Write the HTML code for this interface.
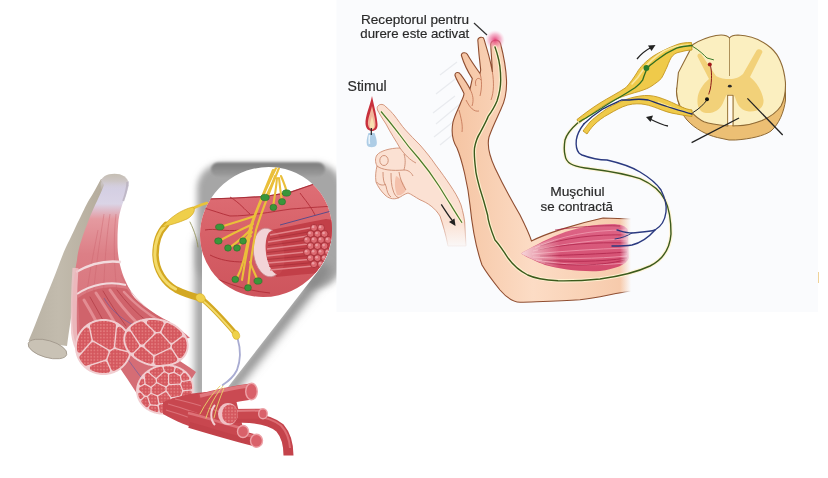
<!DOCTYPE html>
<html><head><meta charset="utf-8">
<style>
html,body{margin:0;padding:0;background:#fff;width:828px;height:478px;overflow:hidden}
svg{display:block}
text{font-family:"Liberation Sans",sans-serif;fill:#2a2a2a;stroke:#2a2a2a;stroke-width:0.18}
</style></head><body>
<svg width="828" height="478" viewBox="0 0 828 478">
<defs>
  <linearGradient id="tendonG" x1="0" y1="0" x2="1" y2="0">
    <stop offset="0" stop-color="#bab3a5"/>
    <stop offset="0.3" stop-color="#c2bbad"/>
    <stop offset="0.75" stop-color="#b5ac9c"/>
    <stop offset="1" stop-color="#9e9484"/>
  </linearGradient>
  <linearGradient id="muscTop" x1="0" y1="178" x2="0" y2="330" gradientUnits="userSpaceOnUse">
    <stop offset="0" stop-color="#d0cbe0"/>
    <stop offset="0.17" stop-color="#dad4e6"/>
    <stop offset="0.27" stop-color="#e59aa0"/>
    <stop offset="0.5" stop-color="#dc7f86"/>
    <stop offset="1" stop-color="#d7717a"/>
  </linearGradient>
  <pattern id="fasc" width="3.2" height="3.2" patternUnits="userSpaceOnUse">
    <rect width="3.2" height="3.2" fill="#d4575e"/>
    <circle cx="1.6" cy="1.6" r="0.95" fill="#e37a7c"/>
  </pattern>
  <linearGradient id="topBand" x1="0" y1="162" x2="0" y2="177" gradientUnits="userSpaceOnUse">
    <stop offset="0" stop-color="#7a7a7a"/>
    <stop offset="1" stop-color="#a0a0a0"/>
  </linearGradient>
  <linearGradient id="tissueG" x1="0" y1="185" x2="0" y2="300" gradientUnits="userSpaceOnUse">
    <stop offset="0" stop-color="#de6e75"/>
    <stop offset="0.5" stop-color="#d65f66"/>
    <stop offset="1" stop-color="#cd545c"/>
  </linearGradient>
  <linearGradient id="domeG" x1="0" y1="174" x2="0" y2="190" gradientUnits="userSpaceOnUse">
    <stop offset="0" stop-color="#c5beb3"/>
    <stop offset="0.45" stop-color="#cdc6c6"/>
    <stop offset="1" stop-color="#d8d3e2" stop-opacity="0"/>
  </linearGradient>
  <linearGradient id="skinG" x1="0" y1="0" x2="1" y2="0">
    <stop offset="0" stop-color="#f5c4a2"/>
    <stop offset="0.45" stop-color="#fcdcc5"/>
    <stop offset="1" stop-color="#f6c8a8"/>
  </linearGradient>
  <linearGradient id="armFade" x1="620" y1="0" x2="631" y2="0" gradientUnits="userSpaceOnUse">
    <stop offset="0" stop-color="#fafbfd" stop-opacity="0"/>
    <stop offset="1" stop-color="#fafbfd" stop-opacity="1"/>
  </linearGradient>
  <linearGradient id="lhFade" x1="0" y1="222" x2="0" y2="250" gradientUnits="userSpaceOnUse">
    <stop offset="0" stop-color="#fafbfd" stop-opacity="0"/>
    <stop offset="1" stop-color="#fafbfd" stop-opacity="1"/>
  </linearGradient>
  <linearGradient id="muscR" x1="0" y1="0" x2="0" y2="1">
    <stop offset="0" stop-color="#de6688"/>
    <stop offset="1" stop-color="#d24a6c"/>
  </linearGradient>
  <linearGradient id="muscRL" x1="519" y1="0" x2="560" y2="0" gradientUnits="userSpaceOnUse">
    <stop offset="0" stop-color="#f9dfe0" stop-opacity="1"/>
    <stop offset="1" stop-color="#f9dfe0" stop-opacity="0"/>
  </linearGradient>
  <radialGradient id="glow" cx="0.5" cy="0.5" r="0.5">
    <stop offset="0" stop-color="#e23a72" stop-opacity="0.95"/>
    <stop offset="0.6" stop-color="#f07aa2" stop-opacity="0.5"/>
    <stop offset="1" stop-color="#fbc0d4" stop-opacity="0"/>
  </radialGradient>
  <clipPath id="circClip"><ellipse cx="266" cy="232" rx="64" ry="67" transform="rotate(55 266 232)"/></clipPath>
  <filter id="blur6" x="-50%" y="-50%" width="200%" height="200%"><feGaussianBlur stdDeviation="5"/></filter>
  <filter id="blur4" x="-100%" y="-20%" width="300%" height="140%"><feGaussianBlur stdDeviation="4"/></filter>
  <filter id="blur3" x="-50%" y="-50%" width="200%" height="200%"><feGaussianBlur stdDeviation="3"/></filter>
  <filter id="blur1b" x="-20%" y="-50%" width="140%" height="200%"><feGaussianBlur stdDeviation="1.2"/></filter>
  <filter id="blur2s" x="-20%" y="-20%" width="140%" height="140%"><feGaussianBlur stdDeviation="2.6"/></filter>
  <filter id="blur1"><feGaussianBlur stdDeviation="0.45"/></filter>
</defs>

<rect x="815.5" y="272" width="3.5" height="11" fill="#ecc880" opacity="0.8"/>
<!-- ================= LEFT ILLUSTRATION ================= -->
<!-- callout shadow -->
<g filter="url(#blur3)">
  <rect x="197" y="163" width="145" height="125" rx="26" fill="#a6a6a6"/>
</g>
<rect x="211" y="162.4" width="114" height="14" rx="7" fill="url(#topBand)" filter="url(#blur1b)"/>
<g filter="url(#blur4)" fill="#999999">
  <path d="M195 240 L195 398 L206 398 L206 240 Z"/>
</g>
<g filter="url(#blur6)" fill="#878787">
  <path d="M322 262 L332 270 L230 398 L219 396 Z"/>
</g>
<path d="M200 234.8 A64 67 55 1 1 319 269.8 L221 396 L202 396 L202 240 Z" fill="#fff"/>

<!-- tendon -->
<path d="M101 179 C97 186 93 194 89 200 C85 207 83 212 79 220 C75 228 73 233 69.5 240 C63 252 58 268 53 280 C47 295 42 307 37 320 C34 328 31 335 28.5 341 L67 346 C69 330 71 318 73 305 L108 215 L128.6 185 Z" fill="url(#tendonG)"/>
<ellipse cx="47.5" cy="349" rx="20" ry="8.5" transform="rotate(16 47.5 349)" fill="#c9c2b5" stroke="#9f968a" stroke-width="0.8"/>


<!-- muscle main body -->
<path d="M102 181 L104 185 C102 190 100 195 97.5 200 C94 207 91 214 88.7 220 C86 227 83 235 81.5 240 C79 247 77.5 254 77 260 C75.5 268 74.5 274 73.8 280 C73 290 72.5 300 72.2 320 C72.5 335 75 344 79 350 L190 338 C180 328 165 320 150 313 C140 306 133 297 130 290 C126 283 121 272 119 260 C117.5 252 117.5 245 117.5 240 C117.5 232 118 226 118.5 220 C119.5 212 122 205 124 200 C126 195 127.5 190 128.6 186 L128.6 181 Z" fill="url(#muscTop)"/>
<g stroke="#c8606a" stroke-width="0.7" fill="none" opacity="0.55">
  <path d="M104 214 C100 240 95 270 92 310"/>
  <path d="M110 214 C106 240 104 270 103 310"/>
  <path d="M116 214 C113 240 114 270 118 300"/>
  <path d="M98 230 C92 260 86 290 84 320"/>
  <path d="M121 275 C128 290 140 305 160 318"/>
</g>
<path d="M100.3 183 C100.8 177 107 173.8 114.5 173.8 C122 173.8 128 177 128.8 184 L128 190 L101 190 Z" fill="url(#domeG)"/>
<path d="M127.3 182 C127.3 188 125.7 194 123.2 201" stroke="#b9b2bf" stroke-width="2" fill="none" opacity="0.8"/>
<path d="M101 181 C99 188 96 195 93 202" stroke="#b7afa3" stroke-width="1.5" fill="none" opacity="0.7"/>
<path d="M76 272 C90 264 105 260 121 262" stroke="#f2dadd" stroke-width="2.5" fill="none"/>
<path d="M77 294 C92 284 110 281 126 285" stroke="#f2dadd" stroke-width="2" fill="none"/>
<!-- exposed inner bundles -->
<path d="M75.5 268 C74 290 73.5 315 74 333 C75 341 77 347 80 351" stroke="#eec3c7" stroke-width="6" fill="none" opacity="0.85"/>
<path d="M78 298 C92 288 110 285 127 289 C135 300 150 312 170 322 L120 330 L80 335 Z" fill="#d0636b"/>
<g fill="none" stroke-linecap="round">
  <path d="M84 300 C90 310 96 320 100 330" stroke="#e38d93" stroke-width="3"/>
  <path d="M96 293 C104 305 112 318 118 328" stroke="#e38d93" stroke-width="3"/>
  <path d="M110 290 C118 302 128 314 138 324" stroke="#e38d93" stroke-width="3"/>
  <path d="M124 292 C134 303 146 313 160 321" stroke="#e38d93" stroke-width="2.5"/>
  <path d="M90 297 C96 308 102 318 108 329" stroke="#b9464f" stroke-width="1"/>
  <path d="M103 291 C110 303 118 315 126 326" stroke="#b9464f" stroke-width="1"/>
  <path d="M117 290 C126 302 136 313 148 322" stroke="#b9464f" stroke-width="1"/>
</g>
<path d="M104 298 C112 312 125 322 140 328" stroke="#5d5aa6" stroke-width="0.8" fill="none" opacity="0.7"/>

<!-- lower body strip between A and C -->
<path d="M108 350 C118 365 128 380 140 398 L175 405 L196 372 C180 360 160 350 140 332 Z" fill="#d56d75"/>
<path d="M125 355 C135 370 145 382 152 392" stroke="#5d5aa6" stroke-width="0.8" fill="none" opacity="0.7"/>

<!-- cross section A -->
<!--GEN:A-->
<path d="M132.0 347.0 L132.0 346.3 L132.0 345.6 L131.9 344.9 L131.9 344.3 L131.8 343.6 L131.7 342.9 L131.6 342.2 L131.5 341.5 L131.3 340.9 L131.1 340.2 L131.0 339.5 L130.8 338.9 L130.6 338.2 L130.3 337.6 L130.1 336.9 L129.8 336.3 L129.6 335.7 L129.3 335.0 L129.0 334.4 L128.6 333.8 L128.3 333.2 L127.9 332.6 L127.6 332.0 L127.2 331.4 L126.8 330.9 L126.4 330.3 L126.0 329.8 L125.5 329.2 L125.1 328.7 L124.6 328.2 L124.1 327.7 L123.7 327.2 L123.2 326.7 L122.6 326.3 L122.1 325.8 L121.6 325.4 L121.0 324.9 L120.5 324.5 L119.9 324.1 L119.3 323.7 L118.7 323.3 L118.2 323.0 L117.5 322.6 L116.9 322.3 L116.3 322.0 L115.7 321.7 L115.0 321.4 L114.4 321.1 L113.8 320.9 L113.1 320.6 L112.4 320.4 L111.8 320.2 L111.1 320.0 L110.4 319.8 L109.7 319.7 L109.1 319.5 L108.4 319.4 L107.7 319.3 L107.0 319.2 L106.3 319.1 L105.6 319.1 L104.9 319.0 L104.2 319.0 L103.5 319.0 L102.8 319.0 L102.1 319.0 L101.4 319.1 L100.7 319.1 L100.0 319.2 L99.3 319.3 L98.6 319.4 L97.9 319.5 L97.3 319.7 L96.6 319.8 L95.9 320.0 L95.2 320.2 L94.6 320.4 L93.9 320.6 L93.2 320.9 L92.6 321.1 L92.0 321.4 L91.3 321.7 L90.7 322.0 L90.1 322.3 L89.5 322.6 L88.8 323.0 L88.3 323.3 L87.7 323.7 L87.1 324.1 L86.5 324.5 L86.0 324.9 L85.4 325.4 L84.9 325.8 L84.4 326.3 L83.8 326.7 L83.3 327.2 L82.9 327.7 L82.4 328.2 L81.9 328.7 L81.5 329.2 L81.0 329.8 L80.6 330.3 L80.2 330.9 L79.8 331.4 L79.4 332.0 L79.1 332.6 L78.7 333.2 L78.4 333.8 L78.0 334.4 L77.7 335.0 L77.4 335.7 L77.2 336.3 L76.9 336.9 L76.7 337.6 L76.4 338.2 L76.2 338.9 L76.0 339.5 L75.9 340.2 L75.7 340.9 L75.5 341.5 L75.4 342.2 L75.3 342.9 L75.2 343.6 L75.1 344.3 L75.1 344.9 L75.0 345.6 L75.0 346.3 L75.0 347.0 L75.0 347.7 L75.0 348.4 L75.1 349.1 L75.1 349.7 L75.2 350.4 L75.3 351.1 L75.4 351.8 L75.5 352.5 L75.7 353.1 L75.9 353.8 L76.0 354.5 L76.2 355.1 L76.4 355.8 L76.7 356.4 L76.9 357.1 L77.2 357.7 L77.4 358.3 L77.7 359.0 L78.0 359.6 L78.4 360.2 L78.7 360.8 L79.1 361.4 L79.4 362.0 L79.8 362.6 L80.2 363.1 L80.6 363.7 L81.0 364.2 L81.5 364.8 L81.9 365.3 L82.4 365.8 L82.9 366.3 L83.3 366.8 L83.8 367.3 L84.4 367.7 L84.9 368.2 L85.4 368.6 L86.0 369.1 L86.5 369.5 L87.1 369.9 L87.7 370.3 L88.3 370.7 L88.8 371.0 L89.5 371.4 L90.1 371.7 L90.7 372.0 L91.3 372.3 L92.0 372.6 L92.6 372.9 L93.2 373.1 L93.9 373.4 L94.6 373.6 L95.2 373.8 L95.9 374.0 L96.6 374.2 L97.3 374.3 L97.9 374.5 L98.6 374.6 L99.3 374.7 L100.0 374.8 L100.7 374.9 L101.4 374.9 L102.1 375.0 L102.8 375.0 L103.5 375.0 L104.2 375.0 L104.9 375.0 L105.6 374.9 L106.3 374.9 L107.0 374.8 L107.7 374.7 L108.4 374.6 L109.1 374.5 L109.7 374.3 L110.4 374.2 L111.1 374.0 L111.8 373.8 L112.4 373.6 L113.1 373.4 L113.8 373.1 L114.4 372.9 L115.0 372.6 L115.7 372.3 L116.3 372.0 L116.9 371.7 L117.5 371.4 L118.2 371.0 L118.7 370.7 L119.3 370.3 L119.9 369.9 L120.5 369.5 L121.0 369.1 L121.6 368.6 L122.1 368.2 L122.6 367.7 L123.2 367.3 L123.7 366.8 L124.1 366.3 L124.6 365.8 L125.1 365.3 L125.5 364.8 L126.0 364.2 L126.4 363.7 L126.8 363.1 L127.2 362.6 L127.6 362.0 L127.9 361.4 L128.3 360.8 L128.6 360.2 L129.0 359.6 L129.3 359.0 L129.6 358.3 L129.8 357.7 L130.1 357.1 L130.3 356.4 L130.6 355.8 L130.8 355.1 L131.0 354.5 L131.1 353.8 L131.3 353.1 L131.5 352.5 L131.6 351.8 L131.7 351.1 L131.8 350.4 L131.9 349.7 L131.9 349.1 L132.0 348.4 L132.0 347.7 L132.0 347.0Z" fill="#f1cdd0"/>
<path d="M107.6 358.9 L107.5 359.2 L107.5 359.4 L107.5 359.6 L107.5 359.9 L107.5 360.1 L107.5 360.4 L107.6 360.6 L107.7 360.8 L111.4 369.4 L111.6 369.6 L111.7 369.8 L111.8 370.0 L112.0 370.2 L112.2 370.3 L112.4 370.5 L112.6 370.6 L112.8 370.7 L113.1 370.8 L113.3 370.8 L113.6 370.9 L113.8 370.9 L114.0 370.8 L114.3 370.8 L114.5 370.7 L114.8 370.6 L114.9 370.6 L114.9 370.6 L115.4 370.3 L115.5 370.3 L116.0 370.0 L116.1 370.0 L116.6 369.7 L116.6 369.7 L117.2 369.4 L117.2 369.4 L117.7 369.1 L117.8 369.0 L118.3 368.7 L118.3 368.7 L118.8 368.3 L118.9 368.3 L119.3 368.0 L119.4 367.9 L119.9 367.6 L119.9 367.5 L120.4 367.2 L120.4 367.1 L120.9 366.8 L120.9 366.7 L121.4 366.3 L121.4 366.3 L121.8 365.9 L121.9 365.9 L122.3 365.5 L122.3 365.4 L122.8 365.0 L122.8 365.0 L123.2 364.5 L123.2 364.5 L123.6 364.1 L123.7 364.0 L124.1 363.6 L124.1 363.5 L124.5 363.1 L124.5 363.0 L124.9 362.6 L124.9 362.5 L125.2 362.0 L125.3 362.0 L125.6 361.5 L125.6 361.5 L126.0 361.0 L126.0 360.9 L126.3 360.4 L126.3 360.4 L126.6 359.9 L126.7 359.8 L127.0 359.3 L127.0 359.3 L127.3 358.8 L127.3 358.7 L127.5 358.2 L127.6 358.1 L127.8 357.6 L127.8 357.5 L128.1 357.0 L128.1 356.9 L128.3 356.4 L128.3 356.4 L128.5 355.8 L128.6 355.8 L128.7 355.5 L128.7 355.2 L128.8 355.0 L128.8 354.8 L128.8 354.5 L128.8 354.3 L128.7 354.0 L128.6 353.8 L128.6 353.6 L128.4 353.4 L128.3 353.2 L128.1 353.0 L128.0 352.8 L127.8 352.6 L127.6 352.5 L127.4 352.4 L127.1 352.3 L126.9 352.2 L115.4 349.3 L115.2 349.3 L114.9 349.3 L114.7 349.3 L114.4 349.3 L114.2 349.3 L114.0 349.4 L113.8 349.5 L113.5 349.6 L111.2 350.9 L111.0 351.0 L110.8 351.2 L110.6 351.4 L110.5 351.5 L110.3 351.8 L110.2 352.0 L110.1 352.2 L107.6 358.9Z M91.4 323.8 L91.1 323.9 L90.9 324.0 L90.8 324.2 L90.6 324.4 L90.4 324.6 L90.3 324.8 L90.2 325.0 L90.1 325.3 L90.0 325.5 L90.0 325.8 L90.0 326.0 L90.0 326.3 L90.0 326.5 L92.7 339.2 L92.7 339.4 L92.8 339.6 L92.9 339.8 L93.0 340.0 L93.2 340.2 L93.3 340.4 L93.5 340.5 L93.7 340.7 L93.9 340.8 L108.6 349.3 L108.8 349.4 L109.1 349.5 L109.3 349.6 L109.5 349.6 L109.7 349.7 L110.0 349.7 L110.2 349.7 L110.5 349.6 L110.7 349.5 L110.9 349.5 L111.1 349.3 L112.5 348.5 L112.7 348.4 L112.9 348.3 L113.1 348.1 L113.2 347.9 L113.4 347.7 L113.5 347.5 L113.6 347.3 L113.7 347.1 L113.7 346.9 L113.8 346.6 L115.9 325.7 L115.9 325.5 L115.9 325.2 L115.8 325.0 L115.8 324.8 L115.7 324.5 L115.6 324.3 L115.5 324.1 L115.3 323.9 L115.2 323.7 L115.0 323.6 L114.8 323.4 L114.6 323.3 L114.4 323.2 L114.3 323.2 L114.3 323.1 L113.7 322.9 L113.7 322.9 L113.1 322.7 L113.1 322.6 L112.5 322.4 L112.4 322.4 L111.9 322.2 L111.8 322.2 L111.3 322.0 L111.2 322.0 L110.6 321.9 L110.6 321.8 L110.0 321.7 L109.9 321.7 L109.4 321.5 L109.3 321.5 L108.7 321.4 L108.7 321.4 L108.1 321.3 L108.0 321.3 L107.4 321.2 L107.4 321.2 L106.8 321.1 L106.7 321.1 L106.1 321.0 L106.1 321.0 L105.5 321.0 L105.4 321.0 L104.8 320.9 L104.8 320.9 L104.2 320.9 L104.1 320.9 L103.5 320.9 L103.5 320.9 L102.9 320.9 L102.8 320.9 L102.2 320.9 L102.2 320.9 L101.6 321.0 L101.5 321.0 L100.9 321.0 L100.9 321.0 L100.3 321.1 L100.2 321.1 L99.6 321.2 L99.6 321.2 L99.0 321.3 L98.9 321.3 L98.3 321.4 L98.3 321.4 L97.7 321.5 L97.6 321.5 L97.1 321.7 L97.0 321.7 L96.4 321.8 L96.4 321.9 L95.8 322.0 L95.7 322.0 L95.2 322.2 L95.1 322.2 L94.6 322.4 L94.5 322.4 L93.9 322.6 L93.9 322.7 L93.3 322.9 L93.3 322.9 L92.7 323.1 L92.7 323.2 L92.1 323.4 L92.1 323.4 L91.6 323.7 L91.5 323.7 L91.4 323.8Z M77.1 350.5 L77.2 350.7 L77.3 351.0 L77.4 351.2 L77.5 351.4 L77.6 351.6 L77.8 351.8 L77.9 352.0 L78.1 352.2 L78.3 352.3 L78.5 352.4 L78.8 352.5 L79.0 352.6 L79.3 352.6 L79.5 352.7 L79.8 352.7 L80.0 352.6 L80.2 352.6 L80.5 352.5 L80.7 352.4 L80.9 352.3 L81.1 352.2 L81.3 352.0 L81.5 351.8 L90.7 341.4 L90.8 341.2 L91.0 341.0 L91.1 340.8 L91.2 340.5 L91.3 340.3 L91.3 340.0 L91.3 339.8 L91.3 339.5 L91.3 339.3 L89.2 329.5 L89.2 329.3 L89.1 329.0 L89.0 328.8 L88.9 328.6 L88.7 328.4 L88.6 328.2 L88.4 328.1 L88.2 327.9 L88.0 327.8 L87.8 327.7 L87.5 327.6 L87.3 327.6 L87.1 327.5 L86.8 327.5 L86.6 327.5 L86.3 327.5 L86.1 327.6 L85.9 327.7 L85.6 327.8 L85.4 327.9 L85.2 328.0 L85.1 328.2 L84.7 328.5 L84.7 328.6 L84.2 329.0 L84.2 329.0 L83.8 329.5 L83.8 329.5 L83.4 329.9 L83.3 330.0 L82.9 330.4 L82.9 330.5 L82.5 330.9 L82.5 331.0 L82.1 331.4 L82.1 331.5 L81.8 332.0 L81.7 332.0 L81.4 332.5 L81.4 332.5 L81.0 333.0 L81.0 333.1 L80.7 333.6 L80.7 333.6 L80.4 334.1 L80.3 334.2 L80.0 334.7 L80.0 334.7 L79.7 335.2 L79.7 335.3 L79.5 335.8 L79.4 335.9 L79.2 336.4 L79.2 336.5 L78.9 337.0 L78.9 337.1 L78.7 337.6 L78.7 337.6 L78.5 338.2 L78.4 338.2 L78.2 338.8 L78.2 338.9 L78.1 339.4 L78.0 339.5 L77.9 340.0 L77.9 340.1 L77.7 340.6 L77.7 340.7 L77.6 341.3 L77.5 341.3 L77.4 341.9 L77.4 341.9 L77.3 342.5 L77.3 342.6 L77.2 343.1 L77.2 343.2 L77.1 343.8 L77.1 343.8 L77.0 344.4 L77.0 344.5 L77.0 345.1 L77.0 345.1 L76.9 345.7 L76.9 345.8 L76.9 346.3 L76.9 346.4 L76.9 347.0 L76.9 347.0 L76.9 347.6 L76.9 347.7 L76.9 348.2 L76.9 348.3 L77.0 348.9 L77.0 348.9 L77.0 349.5 L77.0 349.6 L77.1 350.2 L77.1 350.2 L77.1 350.5Z M91.6 365.6 L91.4 365.6 L91.1 365.8 L90.9 365.9 L90.7 366.0 L90.6 366.2 L90.4 366.4 L90.3 366.6 L90.1 366.8 L90.0 367.0 L90.0 367.3 L89.9 367.5 L89.9 367.7 L89.9 368.0 L89.9 368.2 L89.9 368.5 L90.0 368.7 L90.1 368.9 L90.2 369.2 L90.3 369.4 L90.5 369.6 L90.6 369.7 L90.8 369.9 L91.0 370.0 L91.2 370.2 L91.5 370.3 L91.6 370.3 L92.1 370.6 L92.1 370.6 L92.7 370.8 L92.7 370.9 L93.3 371.1 L93.3 371.1 L93.9 371.3 L93.9 371.4 L94.5 371.6 L94.6 371.6 L95.1 371.8 L95.2 371.8 L95.7 372.0 L95.8 372.0 L96.4 372.1 L96.4 372.2 L97.0 372.3 L97.1 372.3 L97.6 372.5 L97.7 372.5 L98.3 372.6 L98.3 372.6 L98.9 372.7 L99.0 372.7 L99.6 372.8 L99.6 372.8 L100.2 372.9 L100.3 372.9 L100.9 373.0 L100.9 373.0 L101.5 373.0 L101.6 373.0 L102.2 373.1 L102.2 373.1 L102.8 373.1 L102.9 373.1 L103.5 373.1 L103.5 373.1 L104.1 373.1 L104.2 373.1 L104.8 373.1 L104.8 373.1 L105.4 373.0 L105.5 373.0 L106.1 373.0 L106.1 373.0 L106.7 372.9 L106.8 372.9 L107.4 372.8 L107.4 372.8 L108.0 372.7 L108.2 372.7 L108.4 372.6 L108.6 372.5 L108.9 372.4 L109.1 372.3 L109.2 372.1 L109.4 371.9 L109.6 371.8 L109.7 371.6 L109.8 371.4 L109.9 371.1 L110.0 370.9 L110.0 370.7 L110.1 370.4 L110.1 370.2 L110.0 369.9 L110.0 369.7 L109.9 369.5 L109.9 369.3 L107.0 362.9 L106.9 362.6 L106.8 362.4 L106.6 362.2 L106.5 362.1 L106.3 361.9 L106.1 361.8 L105.9 361.6 L105.6 361.5 L105.4 361.5 L105.2 361.4 L104.9 361.4 L104.7 361.4 L104.4 361.4 L104.2 361.4 L104.0 361.5 L91.6 365.6Z M115.3 345.7 L115.3 345.9 L115.3 346.1 L115.3 346.4 L115.4 346.6 L115.4 346.8 L115.5 347.0 L115.7 347.3 L115.8 347.4 L116.0 347.6 L116.1 347.8 L116.3 347.9 L116.5 348.1 L116.7 348.2 L116.9 348.3 L117.2 348.3 L126.9 350.8 L127.2 350.8 L127.4 350.9 L127.7 350.9 L127.9 350.8 L128.2 350.8 L128.4 350.7 L128.6 350.6 L128.8 350.5 L129.0 350.4 L129.2 350.2 L129.4 350.1 L129.6 349.9 L129.7 349.7 L129.8 349.5 L129.9 349.2 L130.0 349.0 L130.0 348.8 L130.1 348.5 L130.1 348.3 L130.1 348.2 L130.1 347.7 L130.1 347.6 L130.1 347.0 L130.1 347.0 L130.1 346.4 L130.1 346.3 L130.1 345.8 L130.1 345.7 L130.0 345.1 L130.0 345.1 L130.0 344.5 L130.0 344.4 L129.9 343.8 L129.9 343.8 L129.8 343.2 L129.8 343.1 L129.7 342.6 L129.7 342.5 L129.6 341.9 L129.6 341.9 L129.5 341.3 L129.4 341.3 L129.3 340.7 L129.3 340.6 L129.1 340.1 L129.1 340.0 L129.0 339.5 L128.9 339.4 L128.8 338.9 L128.8 338.8 L128.6 338.2 L128.5 338.2 L128.3 337.6 L128.3 337.6 L128.1 337.1 L128.1 337.0 L127.8 336.5 L127.8 336.4 L127.6 335.9 L127.5 335.8 L127.3 335.3 L127.3 335.2 L127.0 334.7 L127.0 334.7 L126.7 334.2 L126.6 334.1 L126.3 333.6 L126.3 333.6 L126.0 333.1 L126.0 333.0 L125.6 332.5 L125.6 332.5 L125.3 332.0 L125.2 332.0 L124.9 331.5 L124.9 331.4 L124.5 331.0 L124.5 330.9 L124.1 330.5 L124.1 330.4 L123.7 330.0 L123.6 329.9 L123.2 329.5 L123.2 329.5 L122.8 329.0 L122.8 329.0 L122.3 328.6 L122.3 328.5 L121.9 328.1 L121.8 328.1 L121.4 327.7 L121.4 327.7 L121.1 327.4 L120.9 327.3 L120.7 327.1 L120.4 327.0 L120.2 326.9 L120.0 326.9 L119.7 326.8 L119.5 326.8 L119.2 326.8 L119.0 326.8 L118.7 326.9 L118.5 327.0 L118.3 327.1 L118.1 327.2 L117.9 327.3 L117.7 327.5 L117.5 327.7 L117.4 327.9 L117.2 328.1 L117.1 328.3 L117.0 328.6 L117.0 328.8 L116.9 329.0 L115.3 345.7Z M80.0 355.7 L79.8 355.9 L79.7 356.1 L79.6 356.3 L79.5 356.5 L79.4 356.7 L79.4 357.0 L79.3 357.2 L79.3 357.5 L79.4 357.7 L79.4 358.0 L79.5 358.2 L79.6 358.4 L79.7 358.7 L79.7 358.8 L80.0 359.3 L80.0 359.3 L80.3 359.8 L80.4 359.9 L80.7 360.4 L80.7 360.4 L81.0 360.9 L81.0 361.0 L81.4 361.5 L81.4 361.5 L81.7 362.0 L81.8 362.0 L82.1 362.5 L82.1 362.6 L82.5 363.0 L82.5 363.1 L82.9 363.5 L82.9 363.6 L83.3 364.0 L83.4 364.1 L83.8 364.5 L83.8 364.5 L84.2 365.0 L84.2 365.0 L84.3 365.0 L84.5 365.2 L84.7 365.3 L84.9 365.5 L85.1 365.6 L85.3 365.7 L85.6 365.7 L85.8 365.8 L86.1 365.8 L86.3 365.8 L86.6 365.7 L86.8 365.6 L104.8 359.7 L105.1 359.6 L105.3 359.5 L105.5 359.4 L105.7 359.2 L105.9 359.1 L106.0 358.9 L106.2 358.7 L106.3 358.5 L106.4 358.2 L108.3 353.1 L108.3 352.9 L108.4 352.7 L108.4 352.4 L108.4 352.2 L108.4 351.9 L108.3 351.7 L108.3 351.4 L108.2 351.2 L108.1 351.0 L107.9 350.8 L107.8 350.6 L107.6 350.4 L107.4 350.2 L107.2 350.1 L94.2 342.6 L94.0 342.5 L93.7 342.4 L93.5 342.3 L93.3 342.3 L93.0 342.3 L92.8 342.3 L92.5 342.3 L92.3 342.4 L92.1 342.4 L91.8 342.5 L91.6 342.7 L91.4 342.8 L91.2 342.9 L91.1 343.1 L80.0 355.7Z" fill="url(#fasc)"/>
<!--/GEN:A-->
<!-- cross section B -->
<!--GEN:B-->
<path d="M188.3 349.4 L188.4 348.8 L188.5 348.2 L188.6 347.6 L188.6 347.0 L188.6 346.4 L188.7 345.8 L188.7 345.2 L188.6 344.6 L188.6 344.1 L188.5 343.5 L188.4 342.9 L188.3 342.3 L188.2 341.7 L188.1 341.1 L187.9 340.5 L187.7 339.9 L187.5 339.3 L187.3 338.7 L187.1 338.1 L186.8 337.5 L186.5 336.9 L186.3 336.3 L185.9 335.7 L185.6 335.2 L185.3 334.6 L184.9 334.0 L184.5 333.5 L184.1 332.9 L183.7 332.4 L183.3 331.8 L182.8 331.3 L182.4 330.8 L181.9 330.2 L181.4 329.7 L180.9 329.2 L180.3 328.7 L179.8 328.2 L179.2 327.7 L178.7 327.3 L178.1 326.8 L177.5 326.3 L176.9 325.9 L176.3 325.5 L175.6 325.0 L175.0 324.6 L174.3 324.2 L173.6 323.8 L173.0 323.4 L172.3 323.1 L171.6 322.7 L170.9 322.4 L170.1 322.0 L169.4 321.7 L168.7 321.4 L167.9 321.1 L167.2 320.8 L166.4 320.5 L165.7 320.3 L164.9 320.0 L164.1 319.8 L163.4 319.6 L162.6 319.4 L161.8 319.2 L161.0 319.0 L160.2 318.9 L159.4 318.7 L158.6 318.6 L157.8 318.5 L157.0 318.4 L156.2 318.3 L155.4 318.2 L154.6 318.1 L153.8 318.1 L153.0 318.1 L152.2 318.0 L151.4 318.0 L150.6 318.1 L149.8 318.1 L149.0 318.1 L148.3 318.2 L147.5 318.3 L146.7 318.3 L145.9 318.4 L145.2 318.6 L144.4 318.7 L143.7 318.8 L142.9 319.0 L142.2 319.2 L141.5 319.4 L140.8 319.6 L140.1 319.8 L139.4 320.0 L138.7 320.2 L138.0 320.5 L137.4 320.8 L136.7 321.0 L136.1 321.3 L135.4 321.7 L134.8 322.0 L134.2 322.3 L133.6 322.6 L133.0 323.0 L132.5 323.4 L131.9 323.8 L131.4 324.1 L130.9 324.5 L130.4 325.0 L129.9 325.4 L129.4 325.8 L129.0 326.3 L128.5 326.7 L128.1 327.2 L127.7 327.6 L127.3 328.1 L126.9 328.6 L126.6 329.1 L126.2 329.6 L125.9 330.1 L125.6 330.7 L125.3 331.2 L125.0 331.7 L124.8 332.3 L124.6 332.8 L124.4 333.4 L124.2 333.9 L124.0 334.5 L123.9 335.1 L123.7 335.6 L123.6 336.2 L123.5 336.8 L123.4 337.4 L123.4 338.0 L123.4 338.6 L123.3 339.2 L123.3 339.8 L123.4 340.4 L123.4 340.9 L123.5 341.5 L123.6 342.1 L123.7 342.7 L123.8 343.3 L123.9 343.9 L124.1 344.5 L124.3 345.1 L124.5 345.7 L124.7 346.3 L124.9 346.9 L125.2 347.5 L125.5 348.1 L125.7 348.7 L126.1 349.3 L126.4 349.8 L126.7 350.4 L127.1 351.0 L127.5 351.5 L127.9 352.1 L128.3 352.6 L128.7 353.2 L129.2 353.7 L129.6 354.2 L130.1 354.8 L130.6 355.3 L131.1 355.8 L131.7 356.3 L132.2 356.8 L132.8 357.3 L133.3 357.7 L133.9 358.2 L134.5 358.7 L135.1 359.1 L135.7 359.5 L136.4 360.0 L137.0 360.4 L137.7 360.8 L138.4 361.2 L139.0 361.6 L139.7 361.9 L140.4 362.3 L141.1 362.6 L141.9 363.0 L142.6 363.3 L143.3 363.6 L144.1 363.9 L144.8 364.2 L145.6 364.5 L146.3 364.7 L147.1 365.0 L147.9 365.2 L148.6 365.4 L149.4 365.6 L150.2 365.8 L151.0 366.0 L151.8 366.1 L152.6 366.3 L153.4 366.4 L154.2 366.5 L155.0 366.6 L155.8 366.7 L156.6 366.8 L157.4 366.9 L158.2 366.9 L159.0 366.9 L159.8 367.0 L160.6 367.0 L161.4 366.9 L162.2 366.9 L163.0 366.9 L163.7 366.8 L164.5 366.7 L165.3 366.7 L166.1 366.6 L166.8 366.4 L167.6 366.3 L168.3 366.2 L169.1 366.0 L169.8 365.8 L170.5 365.6 L171.2 365.4 L171.9 365.2 L172.6 365.0 L173.3 364.8 L174.0 364.5 L174.6 364.2 L175.3 364.0 L175.9 363.7 L176.6 363.3 L177.2 363.0 L177.8 362.7 L178.4 362.4 L179.0 362.0 L179.5 361.6 L180.1 361.2 L180.6 360.9 L181.1 360.5 L181.6 360.0 L182.1 359.6 L182.6 359.2 L183.0 358.7 L183.5 358.3 L183.9 357.8 L184.3 357.4 L184.7 356.9 L185.1 356.4 L185.4 355.9 L185.8 355.4 L186.1 354.9 L186.4 354.3 L186.7 353.8 L187.0 353.3 L187.2 352.7 L187.4 352.2 L187.6 351.6 L187.8 351.1 L188.0 350.5 L188.1 349.9 L188.3 349.4Z" fill="#f1cdd0"/>
<path d="M154.3 362.3 L154.2 362.5 L154.3 362.7 L154.3 363.0 L154.4 363.2 L154.5 363.4 L154.6 363.6 L154.7 363.8 L154.9 364.0 L155.0 364.2 L155.2 364.4 L155.4 364.5 L155.6 364.6 L155.8 364.7 L156.0 364.8 L156.3 364.9 L156.5 364.9 L156.7 364.9 L156.8 364.9 L157.5 365.0 L157.6 365.0 L158.3 365.0 L158.3 365.0 L159.0 365.0 L159.1 365.0 L159.8 365.1 L159.8 365.1 L160.6 365.1 L160.6 365.1 L161.3 365.0 L161.4 365.0 L162.1 365.0 L162.1 365.0 L162.8 365.0 L162.9 365.0 L163.6 364.9 L163.6 364.9 L164.3 364.9 L164.3 364.8 L165.0 364.8 L165.1 364.8 L165.8 364.7 L165.8 364.7 L166.5 364.6 L166.5 364.6 L167.2 364.4 L167.3 364.4 L167.9 364.3 L168.0 364.3 L168.6 364.2 L168.7 364.1 L169.3 364.0 L169.4 364.0 L170.0 363.8 L170.0 363.8 L170.7 363.6 L170.7 363.6 L171.3 363.4 L171.4 363.4 L172.0 363.2 L172.0 363.2 L172.6 363.0 L172.7 363.0 L173.3 362.7 L173.3 362.7 L173.9 362.5 L173.9 362.5 L174.5 362.2 L174.5 362.2 L175.1 362.0 L175.1 361.9 L175.7 361.7 L175.7 361.6 L175.9 361.6 L176.1 361.4 L176.3 361.3 L176.5 361.1 L176.6 361.0 L176.8 360.8 L176.9 360.6 L177.0 360.3 L177.1 360.1 L177.2 359.9 L177.2 359.6 L177.2 359.4 L177.2 359.1 L177.2 358.9 L177.1 358.7 L177.1 358.4 L177.0 358.2 L176.8 358.0 L172.0 350.5 L171.9 350.3 L171.7 350.1 L171.6 350.0 L171.4 349.8 L171.2 349.7 L171.0 349.6 L170.7 349.5 L170.5 349.4 L170.3 349.4 L170.0 349.4 L169.8 349.4 L169.5 349.4 L169.3 349.4 L169.1 349.5 L168.9 349.6 L155.9 355.7 L155.7 355.8 L155.5 356.0 L155.3 356.1 L155.1 356.3 L155.0 356.5 L154.8 356.7 L154.7 356.9 L154.6 357.1 L154.6 357.4 L154.5 357.6 L154.5 357.9 L154.3 362.3Z M162.0 330.8 L161.9 331.1 L161.8 331.3 L161.8 331.5 L161.7 331.8 L161.7 332.0 L161.8 332.3 L161.8 332.5 L161.9 332.7 L162.0 333.0 L162.1 333.2 L162.2 333.4 L162.4 333.6 L169.8 341.9 L170.0 342.1 L170.2 342.2 L170.4 342.4 L170.6 342.5 L170.9 342.6 L171.1 342.7 L171.3 342.7 L171.6 342.7 L171.8 342.7 L172.1 342.7 L172.3 342.7 L172.6 342.6 L172.8 342.5 L173.0 342.4 L173.2 342.2 L181.1 336.3 L181.3 336.1 L181.5 336.0 L181.6 335.8 L181.7 335.6 L181.9 335.4 L181.9 335.2 L182.0 334.9 L182.1 334.7 L182.1 334.5 L182.1 334.2 L182.1 334.0 L182.0 333.8 L182.0 333.5 L181.9 333.3 L181.8 333.1 L181.7 332.9 L181.5 332.7 L181.4 332.5 L181.4 332.5 L181.0 332.0 L180.9 332.0 L180.5 331.6 L180.5 331.5 L180.0 331.1 L180.0 331.0 L179.6 330.6 L179.5 330.6 L179.1 330.1 L179.0 330.1 L178.6 329.7 L178.5 329.6 L178.0 329.2 L178.0 329.2 L177.5 328.7 L177.4 328.7 L176.9 328.3 L176.9 328.3 L176.4 327.9 L176.3 327.8 L175.8 327.5 L175.7 327.4 L175.2 327.0 L175.2 327.0 L174.6 326.6 L174.6 326.6 L174.0 326.2 L173.9 326.2 L173.4 325.9 L173.3 325.8 L172.7 325.5 L172.7 325.5 L172.1 325.1 L172.0 325.1 L171.4 324.8 L171.4 324.7 L170.7 324.4 L170.7 324.4 L170.1 324.1 L170.0 324.1 L169.4 323.8 L169.3 323.7 L168.7 323.5 L168.6 323.4 L168.2 323.3 L168.0 323.2 L167.7 323.1 L167.5 323.1 L167.3 323.1 L167.0 323.1 L166.8 323.1 L166.6 323.1 L166.3 323.2 L166.1 323.3 L165.9 323.4 L165.7 323.6 L165.5 323.7 L165.4 323.9 L165.2 324.1 L165.1 324.3 L165.0 324.5 L162.0 330.8Z M134.7 352.9 L134.6 353.1 L134.4 353.3 L134.3 353.5 L134.2 353.7 L134.1 353.9 L134.1 354.2 L134.0 354.4 L134.0 354.7 L134.0 354.9 L134.1 355.2 L134.1 355.4 L134.2 355.6 L134.3 355.9 L134.5 356.1 L134.6 356.3 L134.8 356.4 L135.0 356.6 L135.1 356.7 L135.1 356.7 L135.6 357.1 L135.7 357.2 L136.2 357.5 L136.3 357.6 L136.8 358.0 L136.8 358.0 L137.4 358.4 L137.4 358.4 L138.0 358.8 L138.1 358.8 L138.6 359.1 L138.7 359.2 L139.3 359.5 L139.3 359.5 L139.9 359.9 L140.0 359.9 L140.6 360.2 L140.6 360.3 L141.3 360.6 L141.3 360.6 L141.9 360.9 L142.0 360.9 L142.6 361.2 L142.7 361.3 L143.3 361.5 L143.4 361.6 L144.0 361.8 L144.1 361.9 L144.7 362.1 L144.8 362.1 L145.4 362.4 L145.5 362.4 L146.2 362.7 L146.2 362.7 L146.9 362.9 L146.9 362.9 L147.6 363.1 L147.7 363.1 L148.4 363.4 L148.4 363.4 L149.1 363.6 L149.2 363.6 L149.8 363.7 L150.0 363.8 L150.3 363.8 L150.5 363.8 L150.7 363.8 L151.0 363.7 L151.2 363.7 L151.4 363.6 L151.7 363.5 L151.9 363.3 L152.1 363.2 L152.2 363.0 L152.4 362.8 L152.5 362.6 L152.7 362.4 L152.7 362.2 L152.8 361.9 L152.9 361.7 L152.9 361.4 L153.1 357.4 L153.1 357.2 L153.1 356.9 L153.0 356.7 L153.0 356.5 L152.9 356.2 L152.7 356.0 L152.6 355.8 L152.4 355.6 L152.2 355.4 L143.3 347.7 L143.1 347.5 L142.9 347.4 L142.6 347.3 L142.4 347.2 L142.2 347.1 L141.9 347.1 L141.7 347.0 L141.4 347.1 L141.2 347.1 L140.9 347.2 L140.7 347.2 L140.5 347.3 L140.2 347.5 L140.0 347.6 L139.9 347.8 L134.7 352.9Z M131.4 326.6 L131.2 326.8 L131.0 327.0 L130.9 327.2 L130.8 327.4 L130.7 327.6 L130.6 327.8 L130.6 328.0 L130.5 328.3 L130.5 328.5 L130.5 328.7 L130.6 329.0 L130.6 329.2 L130.7 329.4 L130.8 329.7 L130.9 329.9 L139.8 343.4 L139.9 343.6 L140.1 343.8 L140.3 344.0 L140.5 344.1 L140.7 344.3 L140.9 344.4 L141.1 344.5 L141.4 344.5 L141.6 344.6 L141.9 344.6 L142.1 344.6 L142.4 344.5 L142.6 344.5 L142.8 344.4 L143.1 344.3 L143.3 344.2 L143.5 344.0 L143.6 343.9 L152.9 334.7 L153.1 334.5 L153.2 334.3 L153.3 334.1 L153.5 333.8 L153.5 333.6 L153.6 333.4 L153.6 333.1 L153.6 332.9 L153.6 332.6 L153.6 332.4 L153.5 332.1 L153.4 331.9 L153.3 331.7 L153.2 331.5 L153.0 331.3 L152.9 331.1 L143.3 322.1 L143.1 321.9 L142.9 321.8 L142.7 321.7 L142.5 321.6 L142.2 321.5 L142.0 321.5 L141.8 321.4 L141.5 321.4 L141.3 321.4 L141.1 321.5 L140.8 321.5 L140.7 321.6 L140.6 321.6 L140.0 321.8 L140.0 321.8 L139.4 322.0 L139.3 322.0 L138.7 322.3 L138.7 322.3 L138.1 322.5 L138.1 322.5 L137.5 322.8 L137.5 322.8 L136.9 323.0 L136.9 323.1 L136.3 323.3 L136.3 323.4 L135.7 323.6 L135.7 323.7 L135.2 323.9 L135.1 324.0 L134.6 324.3 L134.6 324.3 L134.1 324.6 L134.0 324.6 L133.6 324.9 L133.5 325.0 L133.1 325.3 L133.0 325.3 L132.6 325.6 L132.5 325.7 L132.1 326.0 L132.0 326.1 L131.6 326.4 L131.6 326.4 L131.4 326.6Z M145.4 344.1 L145.2 344.3 L145.1 344.5 L145.0 344.7 L144.9 344.9 L144.8 345.1 L144.7 345.3 L144.7 345.6 L144.7 345.8 L144.7 346.1 L144.7 346.3 L144.7 346.5 L144.8 346.8 L144.9 347.0 L145.0 347.2 L145.2 347.4 L145.3 347.6 L145.5 347.8 L152.8 354.0 L153.0 354.2 L153.2 354.3 L153.4 354.4 L153.6 354.5 L153.8 354.6 L154.1 354.6 L154.3 354.6 L154.5 354.6 L154.8 354.6 L155.0 354.6 L155.3 354.5 L155.5 354.4 L169.1 347.9 L169.3 347.8 L169.5 347.7 L169.7 347.5 L169.8 347.4 L170.0 347.2 L170.1 347.0 L170.2 346.8 L170.3 346.5 L170.4 346.3 L170.5 346.1 L170.5 345.8 L170.5 345.6 L170.5 345.3 L170.4 345.1 L170.3 344.9 L170.2 344.6 L170.1 344.4 L170.0 344.2 L169.8 344.0 L161.0 334.1 L160.8 333.9 L160.6 333.8 L160.4 333.6 L160.2 333.5 L159.9 333.4 L159.7 333.3 L159.4 333.3 L159.2 333.3 L158.9 333.3 L157.0 333.4 L156.7 333.5 L156.5 333.5 L156.2 333.6 L156.0 333.7 L155.8 333.8 L155.6 334.0 L155.4 334.2 L145.4 344.1Z M131.0 332.5 L130.8 332.3 L130.7 332.2 L130.5 332.0 L130.3 331.8 L130.1 331.7 L129.9 331.6 L129.7 331.5 L129.4 331.5 L129.2 331.4 L128.9 331.4 L128.7 331.4 L128.5 331.4 L128.2 331.5 L128.0 331.6 L127.8 331.7 L127.6 331.8 L127.4 331.9 L127.2 332.1 L127.0 332.3 L126.9 332.4 L126.7 332.7 L126.6 332.9 L126.6 333.0 L126.5 333.1 L126.4 333.5 L126.3 333.6 L126.2 334.0 L126.1 334.1 L126.0 334.5 L126.0 334.6 L125.8 335.0 L125.8 335.1 L125.7 335.5 L125.7 335.6 L125.6 336.0 L125.6 336.1 L125.5 336.5 L125.5 336.6 L125.4 337.0 L125.4 337.1 L125.3 337.5 L125.3 337.6 L125.3 338.1 L125.3 338.2 L125.3 338.6 L125.3 338.7 L125.2 339.1 L125.2 339.2 L125.2 339.7 L125.2 339.7 L125.3 340.2 L125.3 340.3 L125.3 340.7 L125.3 340.8 L125.4 341.3 L125.4 341.4 L125.4 341.8 L125.4 341.9 L125.5 342.4 L125.5 342.4 L125.6 342.9 L125.6 343.0 L125.8 343.4 L125.8 343.5 L125.9 344.0 L125.9 344.1 L126.1 344.5 L126.1 344.6 L126.2 345.1 L126.3 345.1 L126.4 345.6 L126.5 345.7 L126.7 346.2 L126.7 346.2 L126.9 346.7 L126.9 346.8 L127.1 347.2 L127.2 347.3 L127.4 347.8 L127.4 347.8 L127.7 348.3 L127.7 348.4 L128.0 348.8 L128.0 348.9 L128.3 349.4 L128.4 349.4 L128.7 349.9 L128.7 349.9 L129.0 350.4 L129.1 350.5 L129.4 350.9 L129.4 351.0 L129.8 351.4 L129.8 351.5 L130.0 351.7 L130.2 351.9 L130.3 352.1 L130.5 352.2 L130.7 352.4 L131.0 352.5 L131.2 352.5 L131.4 352.6 L131.7 352.6 L131.9 352.7 L132.2 352.6 L132.4 352.6 L132.7 352.6 L132.9 352.5 L133.1 352.4 L133.3 352.2 L133.5 352.1 L133.7 351.9 L138.3 347.4 L138.5 347.2 L138.6 347.0 L138.7 346.8 L138.8 346.6 L138.9 346.3 L139.0 346.1 L139.0 345.8 L139.0 345.6 L139.0 345.4 L139.0 345.1 L138.9 344.9 L138.9 344.7 L138.7 344.4 L138.6 344.2 L131.0 332.5Z M172.9 344.2 L172.7 344.4 L172.5 344.6 L172.4 344.8 L172.2 345.0 L172.1 345.2 L172.0 345.4 L172.0 345.6 L171.9 345.9 L171.9 346.1 L171.9 346.8 L171.9 347.0 L171.9 347.3 L171.9 347.5 L172.0 347.8 L172.1 348.0 L172.2 348.3 L177.8 357.0 L178.0 357.2 L178.2 357.4 L178.3 357.5 L178.5 357.7 L178.7 357.8 L179.0 357.9 L179.2 358.0 L179.4 358.1 L179.7 358.1 L179.9 358.1 L180.2 358.1 L180.4 358.1 L180.7 358.0 L180.9 357.9 L181.1 357.8 L181.4 357.7 L181.6 357.5 L181.7 357.4 L182.1 357.0 L182.1 357.0 L182.5 356.6 L182.5 356.5 L182.8 356.2 L182.9 356.1 L183.2 355.7 L183.2 355.7 L183.5 355.3 L183.6 355.2 L183.9 354.8 L183.9 354.8 L184.2 354.4 L184.2 354.3 L184.4 353.9 L184.5 353.8 L184.7 353.4 L184.8 353.4 L185.0 353.0 L185.0 352.9 L185.2 352.5 L185.3 352.4 L185.4 352.0 L185.5 351.9 L185.6 351.5 L185.7 351.4 L185.8 351.0 L185.9 350.9 L186.0 350.5 L186.0 350.4 L186.2 350.0 L186.2 349.9 L186.3 349.5 L186.3 349.4 L186.4 349.0 L186.4 348.9 L186.5 348.5 L186.5 348.4 L186.6 348.0 L186.6 347.9 L186.7 347.5 L186.7 347.4 L186.7 346.9 L186.7 346.8 L186.7 346.4 L186.7 346.3 L186.8 345.9 L186.8 345.8 L186.8 345.3 L186.8 345.3 L186.7 344.8 L186.7 344.7 L186.7 344.3 L186.7 344.2 L186.6 343.7 L186.6 343.6 L186.6 343.2 L186.6 343.1 L186.5 342.6 L186.5 342.6 L186.4 342.1 L186.4 342.0 L186.2 341.6 L186.2 341.5 L186.1 341.0 L186.1 340.9 L185.9 340.5 L185.9 340.4 L185.8 339.9 L185.7 339.9 L185.6 339.4 L185.5 339.3 L185.3 338.8 L185.3 338.8 L185.3 338.7 L185.2 338.5 L185.1 338.3 L184.9 338.1 L184.7 337.9 L184.5 337.8 L184.3 337.6 L184.1 337.5 L183.9 337.4 L183.6 337.3 L183.4 337.3 L183.1 337.3 L182.9 337.2 L182.6 337.3 L182.4 337.3 L182.2 337.4 L181.9 337.5 L181.7 337.6 L181.5 337.7 L172.9 344.2Z M149.3 320.0 L149.0 320.0 L148.8 320.1 L148.6 320.2 L148.3 320.3 L148.1 320.4 L147.9 320.5 L147.7 320.7 L147.6 320.8 L147.4 321.0 L147.3 321.2 L147.2 321.4 L147.1 321.7 L147.0 321.9 L146.9 322.1 L146.9 322.4 L146.9 322.6 L146.9 322.9 L147.0 323.1 L147.1 323.3 L147.1 323.6 L147.3 323.8 L147.4 324.0 L147.5 324.2 L147.7 324.3 L155.2 331.4 L155.4 331.5 L155.6 331.7 L155.8 331.8 L156.1 331.9 L156.3 332.0 L156.6 332.0 L156.8 332.0 L157.1 332.0 L158.5 331.9 L158.8 331.9 L159.0 331.8 L159.2 331.8 L159.4 331.7 L159.7 331.5 L159.8 331.4 L160.0 331.2 L160.2 331.1 L160.3 330.9 L160.5 330.7 L160.6 330.5 L163.4 324.6 L163.4 324.4 L163.5 324.2 L163.6 323.9 L163.6 323.7 L163.6 323.4 L163.6 323.2 L163.5 322.9 L163.4 322.7 L163.3 322.5 L163.2 322.3 L163.1 322.1 L162.9 321.9 L162.8 321.7 L162.6 321.5 L162.4 321.4 L162.1 321.3 L161.9 321.2 L161.7 321.1 L161.4 321.1 L161.3 321.0 L160.6 320.9 L160.6 320.9 L159.9 320.7 L159.8 320.7 L159.1 320.6 L159.0 320.6 L158.3 320.5 L158.3 320.5 L157.6 320.4 L157.5 320.3 L156.8 320.3 L156.8 320.2 L156.0 320.2 L156.0 320.2 L155.3 320.1 L155.2 320.1 L154.5 320.0 L154.4 320.0 L153.7 320.0 L153.7 320.0 L153.0 320.0 L152.9 320.0 L152.2 319.9 L152.2 319.9 L151.4 319.9 L151.4 319.9 L150.7 320.0 L150.6 320.0 L149.9 320.0 L149.9 320.0 L149.3 320.0Z" fill="url(#fasc)"/>
<!--/GEN:B-->
<!-- cross section C -->
<!--GEN:C-->
<path d="M193.6 384.5 L193.4 383.9 L193.3 383.3 L193.2 382.7 L193.0 382.1 L192.8 381.5 L192.6 380.9 L192.4 380.3 L192.2 379.8 L191.9 379.2 L191.6 378.6 L191.4 378.1 L191.1 377.5 L190.8 377.0 L190.4 376.5 L190.1 375.9 L189.7 375.4 L189.4 374.9 L189.0 374.4 L188.6 373.9 L188.1 373.5 L187.7 373.0 L187.3 372.5 L186.8 372.1 L186.3 371.6 L185.9 371.2 L185.4 370.8 L184.8 370.4 L184.3 370.0 L183.8 369.6 L183.2 369.2 L182.7 368.9 L182.1 368.5 L181.5 368.2 L181.0 367.9 L180.4 367.6 L179.8 367.3 L179.1 367.0 L178.5 366.7 L177.9 366.5 L177.3 366.2 L176.6 366.0 L176.0 365.8 L175.3 365.6 L174.6 365.4 L174.0 365.2 L173.3 365.1 L172.6 365.0 L171.9 364.8 L171.2 364.7 L170.5 364.6 L169.8 364.5 L169.1 364.5 L168.4 364.4 L167.7 364.4 L167.0 364.4 L166.3 364.4 L165.6 364.4 L164.9 364.4 L164.2 364.4 L163.5 364.5 L162.8 364.6 L162.1 364.7 L161.4 364.8 L160.7 364.9 L160.0 365.0 L159.3 365.2 L158.6 365.3 L157.9 365.5 L157.2 365.7 L156.5 365.9 L155.8 366.1 L155.2 366.3 L154.5 366.6 L153.8 366.8 L153.2 367.1 L152.6 367.4 L151.9 367.7 L151.3 368.0 L150.7 368.3 L150.1 368.7 L149.5 369.0 L148.9 369.4 L148.3 369.8 L147.7 370.2 L147.1 370.6 L146.6 371.0 L146.1 371.4 L145.5 371.8 L145.0 372.3 L144.5 372.7 L144.0 373.2 L143.5 373.7 L143.1 374.1 L142.6 374.6 L142.2 375.1 L141.7 375.7 L141.3 376.2 L140.9 376.7 L140.5 377.2 L140.2 377.8 L139.8 378.3 L139.5 378.9 L139.2 379.4 L138.8 380.0 L138.5 380.6 L138.3 381.2 L138.0 381.7 L137.8 382.3 L137.5 382.9 L137.3 383.5 L137.1 384.1 L137.0 384.7 L136.8 385.3 L136.6 385.9 L136.5 386.6 L136.4 387.2 L136.3 387.8 L136.2 388.4 L136.2 389.0 L136.1 389.6 L136.1 390.3 L136.1 390.9 L136.1 391.5 L136.2 392.1 L136.2 392.7 L136.3 393.3 L136.3 393.9 L136.4 394.5 L136.6 395.1 L136.7 395.7 L136.8 396.3 L137.0 396.9 L137.2 397.5 L137.4 398.1 L137.6 398.7 L137.8 399.2 L138.1 399.8 L138.4 400.4 L138.6 400.9 L138.9 401.5 L139.2 402.0 L139.6 402.5 L139.9 403.1 L140.3 403.6 L140.6 404.1 L141.0 404.6 L141.4 405.1 L141.9 405.5 L142.3 406.0 L142.7 406.5 L143.2 406.9 L143.7 407.4 L144.1 407.8 L144.6 408.2 L145.2 408.6 L145.7 409.0 L146.2 409.4 L146.8 409.8 L147.3 410.1 L147.9 410.5 L148.5 410.8 L149.0 411.1 L149.6 411.4 L150.2 411.7 L150.9 412.0 L151.5 412.3 L152.1 412.5 L152.7 412.8 L153.4 413.0 L154.0 413.2 L154.7 413.4 L155.4 413.6 L156.0 413.8 L156.7 413.9 L157.4 414.0 L158.1 414.2 L158.8 414.3 L159.5 414.4 L160.2 414.5 L160.9 414.5 L161.6 414.6 L162.3 414.6 L163.0 414.6 L163.7 414.6 L164.4 414.6 L165.1 414.6 L165.8 414.6 L166.5 414.5 L167.2 414.4 L167.9 414.3 L168.6 414.2 L169.3 414.1 L170.0 414.0 L170.7 413.8 L171.4 413.7 L172.1 413.5 L172.8 413.3 L173.5 413.1 L174.2 412.9 L174.8 412.7 L175.5 412.4 L176.2 412.2 L176.8 411.9 L177.4 411.6 L178.1 411.3 L178.7 411.0 L179.3 410.7 L179.9 410.3 L180.5 410.0 L181.1 409.6 L181.7 409.2 L182.3 408.8 L182.9 408.4 L183.4 408.0 L183.9 407.6 L184.5 407.2 L185.0 406.7 L185.5 406.3 L186.0 405.8 L186.5 405.3 L186.9 404.9 L187.4 404.4 L187.8 403.9 L188.3 403.3 L188.7 402.8 L189.1 402.3 L189.5 401.8 L189.8 401.2 L190.2 400.7 L190.5 400.1 L190.8 399.6 L191.2 399.0 L191.5 398.4 L191.7 397.8 L192.0 397.3 L192.2 396.7 L192.5 396.1 L192.7 395.5 L192.9 394.9 L193.0 394.3 L193.2 393.7 L193.4 393.1 L193.5 392.4 L193.6 391.8 L193.7 391.2 L193.8 390.6 L193.8 390.0 L193.9 389.4 L193.9 388.7 L193.9 388.1 L193.9 387.5 L193.8 386.9 L193.8 386.3 L193.7 385.7 L193.7 385.1 L193.6 384.5Z" fill="#f1cdd0"/>
<path d="M139.6 387.6 L139.5 387.7 L139.4 387.8 L139.3 387.9 L139.2 388.0 L139.1 388.1 L139.0 388.2 L139.0 388.4 L138.9 388.5 L138.9 388.6 L138.9 388.8 L138.8 388.9 L138.9 389.1 L138.9 389.2 L138.9 389.4 L139.0 389.5 L139.0 389.6 L139.1 389.8 L139.2 389.9 L139.3 390.0 L144.8 395.3 L144.9 395.4 L145.0 395.5 L145.1 395.6 L145.3 395.6 L145.4 395.7 L145.6 395.7 L145.7 395.7 L145.9 395.7 L146.6 395.7 L146.8 395.7 L146.9 395.7 L147.0 395.6 L147.2 395.6 L147.3 395.5 L147.4 395.4 L147.5 395.4 L149.8 393.4 L150.0 393.3 L150.1 393.2 L150.1 393.1 L150.2 392.9 L150.3 392.8 L150.3 392.6 L150.4 392.5 L150.4 392.3 L150.5 388.7 L150.5 388.6 L150.5 388.4 L150.5 388.3 L150.4 388.1 L150.4 388.0 L150.3 387.9 L150.2 387.7 L150.1 387.6 L150.0 387.5 L149.9 387.4 L149.8 387.4 L145.7 385.1 L145.6 385.0 L145.4 385.0 L145.3 384.9 L145.1 384.9 L145.0 384.9 L144.8 384.9 L144.7 384.9 L144.5 385.0 L144.4 385.0 L144.3 385.1 L139.6 387.6Z M165.3 366.2 L165.1 366.2 L165.0 366.2 L164.9 366.3 L164.7 366.3 L164.6 366.4 L164.5 366.5 L164.3 366.6 L164.2 366.7 L164.1 366.8 L164.1 366.9 L164.0 367.0 L163.9 367.2 L163.9 367.3 L163.9 367.5 L163.8 367.6 L163.8 367.8 L163.9 367.9 L163.9 368.1 L163.9 368.2 L164.7 370.4 L164.8 370.6 L164.8 370.7 L164.9 370.8 L165.0 370.9 L165.1 371.0 L165.2 371.1 L165.3 371.2 L168.1 372.9 L168.2 373.0 L168.3 373.0 L168.5 373.1 L168.6 373.1 L168.7 373.1 L168.9 373.2 L169.0 373.1 L169.2 373.1 L169.3 373.1 L172.7 372.1 L172.8 372.1 L172.9 372.0 L173.1 371.9 L173.2 371.9 L173.3 371.8 L173.4 371.7 L173.5 371.5 L173.6 371.4 L173.6 371.3 L173.7 371.1 L173.7 371.0 L174.3 368.7 L174.3 368.5 L174.3 368.4 L174.3 368.3 L174.3 368.1 L174.2 368.0 L174.2 367.8 L174.1 367.7 L174.1 367.6 L174.0 367.4 L173.9 367.3 L173.8 367.2 L173.7 367.1 L173.5 367.1 L173.4 367.0 L173.3 366.9 L173.1 366.9 L172.9 366.9 L172.9 366.8 L172.3 366.7 L172.2 366.7 L171.6 366.6 L171.6 366.6 L171.0 366.5 L170.9 366.5 L170.3 366.4 L170.3 366.4 L169.7 366.3 L169.6 366.3 L169.0 366.3 L169.0 366.3 L168.3 366.2 L168.3 366.2 L167.7 366.2 L167.6 366.2 L167.0 366.2 L167.0 366.2 L166.3 366.2 L166.3 366.2 L165.7 366.2 L165.6 366.2 L165.3 366.2Z M184.2 391.3 L184.0 391.3 L183.9 391.4 L183.7 391.4 L183.6 391.5 L183.5 391.6 L183.4 391.6 L183.3 391.7 L183.2 391.8 L183.1 391.9 L183.0 392.1 L182.9 392.2 L182.9 392.3 L181.9 395.3 L181.8 395.4 L181.8 395.6 L181.8 395.7 L181.8 395.9 L181.8 396.1 L181.9 396.2 L181.9 396.3 L182.0 396.5 L182.1 396.6 L185.2 401.2 L185.3 401.3 L185.4 401.4 L185.5 401.5 L185.6 401.6 L185.7 401.6 L185.9 401.7 L186.0 401.8 L186.1 401.8 L186.3 401.8 L186.4 401.8 L186.6 401.8 L186.7 401.8 L186.8 401.8 L187.0 401.7 L187.1 401.7 L187.2 401.6 L187.4 401.5 L187.5 401.4 L187.6 401.3 L187.7 401.2 L188.0 400.8 L188.0 400.7 L188.3 400.2 L188.3 400.2 L188.7 399.7 L188.7 399.7 L189.0 399.2 L189.0 399.2 L189.3 398.7 L189.3 398.7 L189.6 398.2 L189.6 398.1 L189.8 397.6 L189.8 397.6 L190.1 397.1 L190.1 397.1 L190.3 396.6 L190.3 396.5 L190.6 396.0 L190.6 396.0 L190.8 395.5 L190.8 395.4 L191.0 394.9 L191.0 394.9 L191.1 394.4 L191.2 394.3 L191.3 393.8 L191.3 393.8 L191.5 393.2 L191.5 393.2 L191.6 392.7 L191.6 392.6 L191.6 392.5 L191.6 392.4 L191.7 392.2 L191.7 392.1 L191.6 391.9 L191.6 391.8 L191.5 391.6 L191.5 391.5 L191.4 391.4 L191.3 391.3 L191.2 391.1 L191.1 391.0 L191.0 391.0 L190.9 390.9 L190.7 390.8 L190.6 390.8 L190.4 390.7 L190.3 390.7 L190.2 390.7 L190.0 390.7 L184.2 391.3Z M165.5 388.5 L165.5 388.3 L165.5 388.2 L165.4 388.0 L165.4 387.9 L165.3 387.8 L165.2 387.6 L165.1 387.5 L165.0 387.4 L164.9 387.3 L164.8 387.2 L164.6 387.1 L157.6 383.7 L157.5 383.7 L157.4 383.6 L157.2 383.6 L157.1 383.6 L156.9 383.6 L156.8 383.6 L156.6 383.6 L156.5 383.7 L156.4 383.7 L156.2 383.8 L156.1 383.9 L156.0 384.0 L152.2 387.3 L152.1 387.4 L152.0 387.5 L152.0 387.7 L151.9 387.8 L151.8 387.9 L151.8 388.1 L151.8 388.2 L151.7 388.4 L151.6 391.8 L151.6 392.0 L151.6 392.1 L151.6 392.3 L151.7 392.4 L151.8 392.6 L151.8 392.7 L151.9 392.8 L152.0 393.0 L152.1 393.1 L152.3 393.1 L152.4 393.2 L152.5 393.3 L156.8 395.0 L156.9 395.1 L157.1 395.1 L157.2 395.1 L157.4 395.1 L157.5 395.1 L157.7 395.1 L157.8 395.0 L157.9 395.0 L158.1 394.9 L164.7 391.0 L164.9 390.9 L165.0 390.9 L165.1 390.8 L165.2 390.7 L165.3 390.5 L165.3 390.4 L165.4 390.3 L165.4 390.2 L165.5 390.0 L165.5 389.9 L165.5 389.7 L165.5 388.5Z M180.7 382.0 L180.8 381.8 L180.8 381.7 L180.8 381.5 L180.8 381.4 L180.8 381.2 L180.8 381.1 L179.9 376.9 L179.9 376.8 L179.8 376.6 L179.8 376.5 L179.7 376.4 L179.6 376.3 L179.5 376.1 L179.4 376.0 L179.3 376.0 L179.2 375.9 L174.5 373.3 L174.4 373.2 L174.2 373.2 L174.1 373.1 L173.9 373.1 L173.8 373.1 L173.7 373.1 L173.5 373.1 L173.4 373.2 L170.3 374.1 L170.1 374.1 L170.0 374.2 L169.8 374.2 L169.7 374.3 L169.6 374.4 L169.5 374.5 L169.4 374.7 L169.3 374.8 L169.3 374.9 L169.2 375.1 L169.2 375.2 L169.2 375.4 L169.2 375.5 L169.2 382.5 L169.2 382.6 L169.3 382.8 L169.3 382.9 L169.3 383.0 L169.4 383.2 L169.5 383.3 L169.6 383.4 L169.7 383.5 L169.8 383.6 L169.9 383.7 L170.1 383.8 L170.2 383.8 L170.3 383.9 L170.5 383.9 L170.6 383.9 L170.8 383.9 L179.1 383.6 L179.2 383.6 L179.3 383.6 L179.5 383.6 L179.6 383.5 L179.7 383.5 L179.8 383.4 L180.0 383.3 L180.1 383.2 L180.2 383.1 L180.2 383.0 L180.3 382.9 L180.4 382.7 L180.7 382.0Z M141.7 400.3 L141.6 400.4 L141.5 400.5 L141.5 400.6 L141.4 400.7 L141.3 400.9 L141.3 401.0 L141.3 401.1 L141.3 401.3 L141.3 401.4 L141.3 401.6 L141.3 401.7 L141.3 401.8 L141.4 402.0 L141.4 402.1 L141.5 402.2 L141.7 402.5 L141.8 402.5 L142.1 403.0 L142.1 403.0 L142.4 403.4 L142.5 403.5 L142.8 403.9 L142.8 403.9 L143.2 404.3 L143.2 404.4 L143.6 404.8 L143.6 404.8 L144.0 405.2 L144.0 405.2 L144.4 405.6 L144.5 405.6 L144.9 406.0 L144.9 406.0 L145.3 406.4 L145.3 406.4 L145.8 406.8 L145.8 406.8 L145.9 406.9 L146.0 407.0 L146.1 407.0 L146.2 407.1 L146.4 407.2 L146.5 407.2 L146.7 407.2 L146.8 407.2 L147.0 407.2 L147.1 407.2 L147.2 407.2 L147.4 407.1 L147.5 407.0 L147.6 407.0 L147.7 406.9 L147.9 406.8 L148.0 406.7 L149.1 405.4 L149.1 405.3 L149.2 405.2 L149.3 405.1 L149.3 404.9 L149.4 404.8 L149.4 404.6 L149.4 404.5 L149.4 404.4 L149.4 404.2 L149.4 404.1 L149.3 404.0 L147.3 397.9 L147.2 397.8 L147.2 397.7 L147.1 397.6 L147.0 397.4 L146.9 397.3 L146.8 397.2 L146.7 397.2 L146.5 397.1 L146.4 397.0 L146.3 397.0 L146.1 397.0 L146.0 396.9 L145.8 396.9 L145.8 396.9 L145.7 396.9 L145.5 397.0 L145.4 397.0 L145.2 397.1 L145.1 397.2 L145.0 397.2 L144.8 397.3 L141.7 400.3Z M169.5 385.2 L169.4 385.2 L169.2 385.2 L169.1 385.3 L168.9 385.3 L168.8 385.4 L168.7 385.5 L168.6 385.5 L168.5 385.6 L167.1 387.0 L167.0 387.1 L166.9 387.2 L166.9 387.3 L166.8 387.5 L166.8 387.6 L166.7 387.7 L166.7 387.9 L166.7 388.0 L166.7 390.2 L166.7 390.4 L166.7 390.6 L166.8 390.7 L166.8 390.9 L166.9 391.0 L167.0 391.1 L170.9 396.5 L171.0 396.6 L171.1 396.8 L171.3 396.9 L171.4 396.9 L171.5 397.0 L171.7 397.1 L171.8 397.1 L172.0 397.1 L172.1 397.1 L172.3 397.1 L172.4 397.1 L179.7 395.7 L179.8 395.7 L179.9 395.6 L180.1 395.6 L180.2 395.5 L180.3 395.4 L180.4 395.3 L180.5 395.2 L180.6 395.1 L180.7 395.0 L180.8 394.9 L180.8 394.7 L182.0 391.4 L182.0 391.2 L182.0 391.1 L182.0 390.9 L182.0 390.8 L182.0 390.6 L182.0 390.5 L182.0 390.4 L180.4 385.8 L180.3 385.7 L180.2 385.6 L180.2 385.5 L180.1 385.3 L180.0 385.2 L179.8 385.2 L179.7 385.1 L179.6 385.0 L179.5 384.9 L179.3 384.9 L179.2 384.9 L179.0 384.9 L178.9 384.8 L169.5 385.2Z M165.4 372.7 L165.3 372.6 L165.2 372.5 L165.0 372.5 L164.9 372.5 L164.7 372.5 L164.6 372.5 L164.4 372.5 L164.3 372.5 L164.1 372.5 L164.0 372.6 L163.9 372.7 L163.7 372.7 L163.6 372.8 L157.4 378.5 L157.3 378.6 L157.2 378.7 L157.1 378.9 L157.0 379.0 L157.0 379.1 L156.9 379.3 L156.9 379.4 L156.9 379.6 L156.9 379.7 L156.9 379.8 L157.1 381.4 L157.1 381.5 L157.1 381.7 L157.2 381.8 L157.3 381.9 L157.4 382.1 L157.4 382.2 L157.5 382.3 L157.7 382.4 L157.8 382.5 L157.9 382.5 L165.0 386.0 L165.1 386.0 L165.3 386.1 L165.4 386.1 L165.6 386.1 L165.7 386.1 L165.8 386.1 L166.0 386.1 L166.1 386.1 L166.3 386.0 L166.4 385.9 L166.5 385.9 L166.6 385.8 L166.7 385.7 L167.6 384.8 L167.7 384.7 L167.8 384.6 L167.9 384.5 L167.9 384.3 L168.0 384.2 L168.0 384.0 L168.0 383.9 L168.0 383.7 L168.0 375.1 L168.0 374.9 L167.9 374.8 L167.9 374.6 L167.8 374.5 L167.8 374.4 L167.7 374.2 L167.6 374.1 L167.5 374.0 L167.4 373.9 L167.3 373.8 L165.4 372.7Z M185.5 373.3 L185.3 373.2 L185.2 373.1 L185.1 373.0 L185.0 373.0 L184.8 372.9 L184.7 372.9 L184.5 372.9 L184.4 372.9 L184.2 372.9 L184.1 372.9 L183.9 373.0 L183.8 373.0 L183.7 373.1 L183.5 373.2 L183.4 373.3 L183.3 373.4 L181.5 375.4 L181.4 375.5 L181.3 375.7 L181.2 375.8 L181.2 375.9 L181.1 376.0 L181.1 376.2 L181.1 376.3 L181.1 376.5 L181.1 376.6 L181.1 376.7 L181.7 379.5 L181.7 379.6 L181.8 379.8 L181.8 379.9 L181.9 380.0 L182.0 380.1 L182.1 380.2 L182.2 380.3 L182.3 380.4 L182.4 380.5 L182.6 380.6 L182.7 380.6 L182.8 380.7 L183.0 380.7 L183.1 380.7 L183.3 380.7 L183.4 380.7 L188.0 379.9 L188.1 379.9 L188.3 379.8 L188.4 379.8 L188.5 379.7 L188.7 379.6 L188.8 379.5 L188.9 379.4 L189.0 379.3 L189.0 379.2 L189.1 379.0 L189.2 378.9 L189.2 378.7 L189.2 378.6 L189.2 378.5 L189.2 378.3 L189.2 378.2 L189.2 378.0 L189.2 377.9 L189.1 377.7 L189.0 377.6 L188.9 377.5 L188.9 377.4 L188.6 377.0 L188.6 376.9 L188.3 376.5 L188.2 376.5 L187.9 376.0 L187.9 376.0 L187.6 375.6 L187.5 375.5 L187.2 375.1 L187.2 375.1 L186.8 374.7 L186.8 374.6 L186.4 374.2 L186.4 374.2 L186.0 373.8 L186.0 373.8 L185.6 373.4 L185.5 373.4 L185.5 373.3Z M159.1 395.7 L158.9 395.8 L158.8 395.9 L158.7 396.0 L158.6 396.1 L158.5 396.3 L158.5 396.4 L158.4 396.5 L158.4 396.7 L158.3 396.8 L158.3 397.0 L158.3 397.2 L158.4 397.3 L159.2 402.0 L159.3 402.1 L159.3 402.3 L159.4 402.4 L159.5 402.6 L159.5 402.7 L159.6 402.8 L159.8 402.9 L159.9 403.0 L160.0 403.1 L160.1 403.1 L160.3 403.2 L160.4 403.2 L160.6 403.2 L160.7 403.2 L160.9 403.2 L161.0 403.2 L168.5 401.5 L168.6 401.5 L168.8 401.4 L168.9 401.4 L169.0 401.3 L169.2 401.2 L169.3 401.1 L169.4 401.0 L169.5 400.9 L169.5 400.7 L169.6 400.6 L170.3 398.8 L170.3 398.7 L170.3 398.5 L170.4 398.4 L170.4 398.2 L170.3 398.1 L170.3 397.9 L170.3 397.8 L170.2 397.6 L170.2 397.5 L170.1 397.4 L166.7 392.8 L166.6 392.7 L166.5 392.6 L166.4 392.5 L166.3 392.4 L166.2 392.4 L166.0 392.3 L165.9 392.3 L165.7 392.2 L165.6 392.2 L165.5 392.2 L165.3 392.2 L165.2 392.2 L165.0 392.3 L164.9 392.3 L164.8 392.4 L159.1 395.7Z M151.9 394.3 L151.7 394.3 L151.6 394.2 L151.4 394.2 L151.3 394.2 L151.2 394.2 L151.0 394.2 L150.9 394.3 L150.7 394.3 L150.6 394.4 L150.5 394.5 L150.4 394.6 L148.8 395.8 L148.7 395.9 L148.6 396.0 L148.6 396.1 L148.5 396.3 L148.4 396.4 L148.4 396.6 L148.3 396.7 L148.3 396.9 L148.3 397.0 L148.3 397.2 L148.3 397.3 L148.4 397.4 L150.4 403.4 L150.5 403.5 L150.5 403.7 L150.6 403.8 L150.7 403.9 L150.8 404.0 L150.9 404.1 L151.0 404.2 L151.1 404.3 L151.3 404.3 L151.4 404.4 L151.6 404.4 L151.7 404.4 L156.6 404.8 L156.7 404.9 L156.9 404.8 L157.0 404.8 L157.2 404.8 L157.3 404.7 L157.4 404.7 L157.6 404.6 L157.7 404.5 L157.8 404.4 L157.9 404.3 L158.0 404.2 L158.1 404.1 L158.1 403.9 L158.2 403.8 L158.2 403.7 L158.2 403.5 L158.2 403.4 L158.2 403.2 L158.2 403.1 L157.1 397.2 L157.1 397.1 L157.0 396.9 L157.0 396.8 L156.9 396.6 L156.8 396.5 L156.7 396.4 L156.6 396.3 L156.5 396.2 L156.3 396.1 L156.2 396.1 L151.9 394.3Z M145.3 374.4 L145.2 374.6 L145.1 374.7 L145.0 374.8 L145.0 374.9 L144.9 375.1 L144.9 375.2 L144.8 375.4 L144.8 375.5 L144.8 375.7 L145.5 382.8 L145.5 383.0 L145.5 383.1 L145.6 383.3 L145.7 383.4 L145.7 383.5 L145.8 383.6 L145.9 383.8 L146.0 383.9 L146.1 383.9 L146.3 384.0 L150.2 386.2 L150.3 386.3 L150.4 386.3 L150.6 386.4 L150.7 386.4 L150.9 386.4 L151.0 386.4 L151.1 386.4 L151.3 386.3 L151.4 386.3 L151.5 386.2 L151.7 386.2 L151.8 386.1 L151.9 386.0 L155.4 382.9 L155.5 382.8 L155.6 382.7 L155.7 382.5 L155.8 382.4 L155.8 382.3 L155.9 382.1 L155.9 382.0 L155.9 381.9 L155.9 381.7 L155.9 381.6 L155.6 379.7 L155.6 379.6 L155.6 379.4 L155.5 379.3 L155.5 379.2 L155.4 379.1 L155.3 379.0 L155.2 378.9 L155.1 378.8 L148.6 373.2 L148.5 373.1 L148.3 373.1 L148.2 373.0 L148.1 372.9 L147.9 372.9 L147.8 372.9 L147.6 372.9 L147.5 372.9 L147.3 372.9 L147.2 372.9 L147.0 373.0 L146.9 373.1 L146.8 373.1 L146.6 373.2 L146.2 373.6 L146.2 373.6 L145.7 374.0 L145.7 374.1 L145.3 374.4Z M150.4 370.6 L150.2 370.7 L150.1 370.8 L150.0 370.9 L149.9 371.0 L149.9 371.1 L149.8 371.2 L149.7 371.4 L149.7 371.5 L149.7 371.7 L149.7 371.8 L149.7 372.0 L149.7 372.1 L149.7 372.3 L149.8 372.4 L149.8 372.5 L149.9 372.7 L150.0 372.8 L150.1 372.9 L150.2 373.0 L155.1 377.2 L155.2 377.3 L155.4 377.3 L155.5 377.4 L155.6 377.5 L155.8 377.5 L155.9 377.5 L156.0 377.5 L156.2 377.5 L156.3 377.5 L156.5 377.5 L156.6 377.4 L156.7 377.4 L156.9 377.3 L157.0 377.2 L157.1 377.1 L163.0 371.8 L163.1 371.7 L163.2 371.6 L163.2 371.5 L163.3 371.4 L163.4 371.2 L163.4 371.1 L163.4 370.9 L163.5 370.8 L163.5 370.6 L163.4 370.5 L163.4 370.3 L163.4 370.2 L162.5 367.7 L162.4 367.5 L162.3 367.4 L162.3 367.3 L162.2 367.1 L162.1 367.0 L161.9 366.9 L161.8 366.9 L161.7 366.8 L161.5 366.7 L161.4 366.7 L161.2 366.7 L161.1 366.7 L160.9 366.7 L160.8 366.7 L160.3 366.8 L160.3 366.8 L159.7 366.9 L159.6 366.9 L159.0 367.1 L159.0 367.1 L158.4 367.2 L158.3 367.2 L157.7 367.4 L157.7 367.4 L157.1 367.6 L157.0 367.6 L156.4 367.8 L156.4 367.8 L155.8 368.0 L155.8 368.0 L155.2 368.3 L155.1 368.3 L154.5 368.5 L154.5 368.5 L153.9 368.8 L153.9 368.8 L153.3 369.0 L153.3 369.0 L152.7 369.3 L152.7 369.3 L152.1 369.6 L152.1 369.6 L151.5 369.9 L151.5 369.9 L151.0 370.2 L150.9 370.3 L150.4 370.6 L150.4 370.6 L150.4 370.6Z M172.7 409.8 L172.8 410.0 L172.8 410.1 L172.9 410.2 L173.0 410.3 L173.1 410.4 L173.2 410.5 L173.3 410.6 L173.4 410.7 L173.6 410.8 L173.7 410.8 L173.8 410.9 L174.0 410.9 L174.1 410.9 L174.3 410.9 L174.4 410.9 L174.6 410.8 L174.7 410.8 L174.8 410.7 L174.9 410.7 L175.5 410.5 L175.5 410.5 L176.1 410.2 L176.1 410.2 L176.7 410.0 L176.7 410.0 L177.3 409.7 L177.3 409.7 L177.9 409.4 L177.9 409.4 L178.5 409.1 L178.5 409.1 L179.0 408.8 L179.1 408.7 L179.6 408.4 L179.6 408.4 L180.2 408.1 L180.2 408.1 L180.7 407.7 L180.7 407.7 L181.3 407.4 L181.3 407.4 L181.8 407.0 L181.8 407.0 L182.3 406.6 L182.3 406.6 L182.8 406.2 L182.8 406.2 L183.3 405.8 L183.3 405.8 L183.8 405.4 L183.8 405.4 L184.3 405.0 L184.3 404.9 L184.6 404.7 L184.7 404.5 L184.8 404.4 L184.9 404.3 L184.9 404.2 L185.0 404.0 L185.0 403.9 L185.1 403.7 L185.1 403.6 L185.1 403.4 L185.0 403.3 L185.0 403.1 L185.0 403.0 L184.9 402.8 L184.8 402.7 L181.3 397.6 L181.2 397.4 L181.1 397.3 L181.0 397.2 L180.9 397.2 L180.7 397.1 L180.6 397.0 L180.5 397.0 L180.3 396.9 L180.2 396.9 L180.0 396.9 L179.9 396.9 L179.7 396.9 L172.5 398.3 L172.3 398.4 L172.2 398.4 L172.1 398.5 L171.9 398.6 L171.8 398.6 L171.7 398.8 L171.6 398.9 L171.5 399.0 L171.4 399.1 L171.4 399.3 L170.6 401.4 L170.5 401.6 L170.5 401.7 L170.5 401.8 L170.5 402.0 L170.5 402.1 L170.5 402.3 L170.5 402.4 L172.7 409.8Z M160.1 404.6 L159.9 404.7 L159.8 404.7 L159.7 404.8 L159.5 404.9 L159.4 404.9 L159.3 405.0 L159.2 405.2 L159.1 405.3 L159.1 405.4 L159.0 405.5 L158.9 405.7 L158.9 405.8 L158.9 405.9 L158.9 406.1 L158.9 406.2 L158.9 406.4 L159.8 411.5 L159.9 411.7 L159.9 411.8 L160.0 411.9 L160.1 412.1 L160.1 412.2 L160.2 412.3 L160.4 412.4 L160.5 412.5 L160.6 412.6 L160.8 412.6 L160.9 412.7 L161.0 412.7 L161.2 412.7 L161.7 412.8 L161.7 412.8 L162.3 412.8 L162.4 412.8 L163.0 412.8 L163.0 412.8 L163.7 412.8 L163.7 412.8 L164.3 412.8 L164.4 412.8 L165.0 412.8 L165.0 412.8 L165.7 412.8 L165.7 412.8 L166.3 412.7 L166.4 412.7 L167.0 412.6 L167.0 412.6 L167.7 412.6 L167.7 412.6 L168.3 412.5 L168.4 412.5 L169.0 412.4 L169.0 412.3 L169.7 412.2 L169.7 412.2 L170.3 412.1 L170.4 412.1 L170.5 412.1 L170.6 412.0 L170.8 412.0 L170.9 411.9 L171.0 411.8 L171.1 411.7 L171.2 411.6 L171.3 411.5 L171.4 411.4 L171.5 411.3 L171.5 411.2 L171.6 411.0 L171.6 410.9 L171.6 410.7 L171.6 410.6 L171.6 410.4 L171.6 410.3 L171.6 410.2 L169.7 403.9 L169.7 403.8 L169.6 403.6 L169.5 403.5 L169.4 403.4 L169.3 403.3 L169.2 403.2 L169.1 403.1 L169.0 403.0 L168.8 403.0 L168.7 402.9 L168.6 402.9 L168.4 402.9 L168.3 402.8 L168.1 402.9 L168.0 402.9 L160.1 404.6Z M182.8 389.1 L182.8 389.2 L182.9 389.4 L183.0 389.5 L183.1 389.6 L183.2 389.7 L183.3 389.8 L183.4 389.9 L183.5 389.9 L183.6 390.0 L183.8 390.0 L183.9 390.1 L184.1 390.1 L184.2 390.1 L184.3 390.1 L190.7 389.4 L190.9 389.4 L191.0 389.4 L191.2 389.3 L191.3 389.3 L191.4 389.2 L191.5 389.1 L191.7 389.0 L191.8 388.9 L191.8 388.8 L191.9 388.6 L192.0 388.5 L192.0 388.4 L192.1 388.2 L192.1 388.1 L192.1 387.9 L192.1 387.6 L192.1 387.6 L192.1 387.0 L192.0 387.0 L192.0 386.5 L192.0 386.4 L192.0 385.9 L191.9 385.9 L191.9 385.4 L191.9 385.3 L191.8 384.8 L191.8 384.8 L191.7 384.2 L191.7 384.2 L191.6 383.7 L191.6 383.7 L191.4 383.1 L191.4 383.1 L191.3 382.6 L191.3 382.6 L191.1 382.1 L191.1 382.0 L191.0 381.9 L191.0 381.7 L190.9 381.6 L190.8 381.5 L190.7 381.3 L190.6 381.2 L190.5 381.1 L190.4 381.1 L190.3 381.0 L190.1 380.9 L190.0 380.9 L189.8 380.9 L189.7 380.9 L189.5 380.9 L189.4 380.9 L182.7 382.0 L182.6 382.0 L182.5 382.1 L182.3 382.1 L182.2 382.2 L182.1 382.3 L182.0 382.4 L181.9 382.5 L181.8 382.6 L181.7 382.7 L181.6 382.9 L181.3 383.7 L181.2 383.8 L181.2 383.9 L181.2 384.1 L181.2 384.2 L181.2 384.4 L181.2 384.5 L181.2 384.6 L181.2 384.8 L182.8 389.1Z M177.4 368.2 L177.2 368.2 L177.1 368.1 L177.0 368.1 L176.8 368.1 L176.7 368.1 L176.5 368.1 L176.4 368.2 L176.3 368.2 L176.1 368.3 L176.0 368.3 L175.9 368.4 L175.8 368.5 L175.7 368.6 L175.6 368.7 L175.5 368.9 L175.4 369.0 L175.4 369.1 L175.4 369.3 L175.0 370.9 L174.9 371.1 L174.9 371.2 L174.9 371.4 L175.0 371.5 L175.0 371.7 L175.0 371.8 L175.1 372.0 L175.2 372.1 L175.3 372.2 L175.4 372.3 L175.5 372.4 L175.6 372.5 L175.7 372.6 L179.1 374.5 L179.3 374.6 L179.4 374.6 L179.5 374.6 L179.7 374.7 L179.8 374.7 L180.0 374.7 L180.1 374.7 L180.2 374.6 L180.4 374.6 L180.5 374.5 L180.6 374.5 L180.8 374.4 L180.9 374.3 L181.0 374.2 L182.2 372.8 L182.3 372.7 L182.4 372.6 L182.5 372.4 L182.5 372.3 L182.6 372.2 L182.6 372.0 L182.6 371.9 L182.6 371.7 L182.6 371.6 L182.6 371.4 L182.5 371.3 L182.5 371.2 L182.4 371.0 L182.3 370.9 L182.3 370.8 L182.2 370.7 L182.0 370.6 L181.9 370.5 L181.7 370.4 L181.7 370.4 L181.2 370.1 L181.2 370.1 L180.7 369.8 L180.6 369.8 L180.1 369.5 L180.1 369.5 L179.6 369.2 L179.5 369.2 L179.0 368.9 L179.0 368.9 L178.4 368.6 L178.4 368.6 L177.9 368.4 L177.8 368.4 L177.4 368.2Z M149.2 407.1 L149.1 407.2 L149.0 407.3 L149.0 407.5 L148.9 407.6 L148.9 407.7 L148.8 407.9 L148.8 408.0 L148.8 408.2 L148.9 408.3 L148.9 408.5 L148.9 408.6 L149.0 408.8 L149.1 408.9 L149.2 409.0 L149.3 409.1 L149.4 409.2 L149.5 409.3 L149.6 409.4 L149.9 409.5 L149.9 409.5 L150.4 409.8 L150.5 409.8 L151.0 410.1 L151.0 410.1 L151.6 410.4 L151.6 410.4 L152.1 410.6 L152.2 410.6 L152.7 410.8 L152.8 410.9 L153.3 411.1 L153.4 411.1 L153.9 411.3 L154.0 411.3 L154.6 411.5 L154.6 411.5 L155.2 411.7 L155.2 411.7 L155.8 411.8 L155.8 411.9 L156.4 412.0 L156.5 412.0 L156.6 412.0 L156.7 412.1 L156.9 412.1 L157.0 412.1 L157.2 412.0 L157.3 412.0 L157.5 412.0 L157.6 411.9 L157.7 411.8 L157.8 411.8 L158.0 411.7 L158.1 411.5 L158.1 411.4 L158.2 411.3 L158.3 411.2 L158.3 411.0 L158.4 410.9 L158.4 410.7 L158.4 410.6 L158.4 410.5 L158.4 410.3 L157.8 407.3 L157.8 407.1 L157.8 407.0 L157.7 406.8 L157.6 406.7 L157.5 406.6 L157.4 406.5 L157.3 406.4 L157.2 406.3 L157.1 406.2 L156.9 406.2 L156.8 406.1 L156.7 406.1 L156.5 406.0 L151.3 405.6 L151.2 405.6 L151.0 405.6 L150.9 405.6 L150.7 405.6 L150.6 405.7 L150.5 405.7 L150.4 405.8 L150.2 405.9 L150.1 406.0 L150.0 406.1 L149.2 407.1Z M140.8 393.1 L140.7 393.0 L140.5 392.9 L140.4 392.8 L140.3 392.8 L140.2 392.7 L140.0 392.7 L139.9 392.7 L139.7 392.7 L139.6 392.7 L139.4 392.7 L139.3 392.7 L139.2 392.8 L139.0 392.8 L138.9 392.9 L138.8 393.0 L138.7 393.1 L138.6 393.2 L138.5 393.3 L138.4 393.5 L138.3 393.6 L138.3 393.7 L138.3 393.9 L138.2 394.0 L138.2 394.2 L138.2 394.3 L138.3 394.5 L138.3 394.8 L138.3 394.8 L138.4 395.3 L138.4 395.3 L138.6 395.9 L138.6 395.9 L138.7 396.4 L138.7 396.4 L138.9 396.9 L138.9 397.0 L139.1 397.5 L139.1 397.5 L139.3 398.0 L139.3 398.0 L139.3 398.1 L139.4 398.2 L139.4 398.4 L139.5 398.5 L139.6 398.6 L139.7 398.7 L139.9 398.8 L140.0 398.8 L140.1 398.9 L140.2 399.0 L140.4 399.0 L140.5 399.0 L140.7 399.0 L140.8 399.0 L141.0 399.0 L141.1 399.0 L141.2 398.9 L141.4 398.9 L141.5 398.8 L141.6 398.7 L141.7 398.6 L143.0 397.4 L143.1 397.3 L143.2 397.2 L143.3 397.1 L143.3 396.9 L143.4 396.8 L143.4 396.7 L143.5 396.5 L143.5 396.4 L143.5 396.2 L143.4 396.1 L143.4 395.9 L143.3 395.8 L143.3 395.6 L143.2 395.5 L143.1 395.4 L143.0 395.3 L140.8 393.1Z M139.3 383.4 L139.2 383.6 L139.2 383.7 L139.2 383.8 L139.2 384.0 L139.2 384.1 L139.2 384.3 L139.3 384.4 L139.3 384.6 L139.4 384.7 L139.4 384.8 L139.5 384.9 L139.6 385.0 L139.7 385.1 L139.9 385.2 L140.0 385.3 L140.1 385.3 L140.3 385.4 L140.4 385.4 L140.5 385.5 L140.7 385.5 L140.8 385.4 L141.0 385.4 L141.1 385.4 L141.3 385.3 L141.4 385.3 L143.5 384.1 L143.6 384.1 L143.7 384.0 L143.8 383.9 L143.9 383.8 L144.0 383.7 L144.1 383.5 L144.2 383.4 L144.2 383.3 L144.2 383.1 L144.3 383.0 L144.3 382.8 L144.3 382.7 L144.0 380.1 L144.0 379.9 L144.0 379.8 L143.9 379.6 L143.9 379.5 L143.8 379.4 L143.7 379.2 L143.6 379.1 L143.5 379.0 L143.4 378.9 L143.2 378.9 L143.1 378.8 L143.0 378.8 L142.8 378.7 L142.7 378.7 L142.5 378.7 L142.4 378.7 L142.2 378.7 L142.1 378.8 L141.9 378.8 L141.8 378.9 L141.7 379.0 L141.5 379.1 L141.4 379.2 L141.3 379.3 L141.3 379.4 L141.0 379.8 L141.0 379.8 L140.7 380.3 L140.7 380.3 L140.4 380.8 L140.4 380.9 L140.2 381.4 L140.2 381.4 L139.9 381.9 L139.9 381.9 L139.7 382.4 L139.7 382.5 L139.4 383.0 L139.4 383.0 L139.3 383.4Z" fill="url(#fasc)"/>
<!--/GEN:C-->

<!-- fibers at bottom right -->
<path d="M163 402 C178 396 195 392 210 392 L235 396 L246 440 C235 440 220 436 205 431 C190 427 175 421 163 414 Z" fill="#c8474f"/>
<g stroke="#e07d84" stroke-width="1.2" fill="none" opacity="0.8">
  <path d="M168 404 C190 410 215 420 240 428"/>
  <path d="M166 410 C190 417 212 426 236 434"/>
  <path d="M175 399 C195 403 215 410 238 418"/>
</g>
<g fill="none" stroke-linecap="butt">
  <!-- lower fibers -->
  <path d="M190 422 C210 428 230 434 256.5 440.8" stroke="#c2424a" stroke-width="12"/>
  <path d="M190 422 C210 428 230 434 256.5 440.8" stroke="#d9676e" stroke-width="3" transform="translate(0,-3.5)"/>
  <path d="M188 416 C205 420 225 427 243 431.5" stroke="#c8474f" stroke-width="11"/>
  <path d="M188 416 C205 420 225 427 243 431.5" stroke="#de7278" stroke-width="2.5" transform="translate(0,-3)"/>
  <!-- long curved -->
  <path d="M235 418 C256 417 271 420 280 428 C286 435 288.5 445 288.5 455.5" stroke="#c4434b" stroke-width="10"/>
  <path d="M235 415.5 C256 414.5 272 418 281 425.5 C287 432 289.5 440 290 448" stroke="#dc6c72" stroke-width="2"/>
  <!-- right middle fiber -->
  <path d="M232 414 L263 413.7" stroke="#c9484f" stroke-width="10"/>
  <path d="M232 411 L263 410.5" stroke="#e07a80" stroke-width="2"/>
  <!-- top fiber -->
  <path d="M200 402 C215 398 232 394 251.5 391.5" stroke="#ca4a52" stroke-width="16"/>
  <path d="M200 396 C215 392 232 388 251 385.5" stroke="#e0787e" stroke-width="3.5"/>
</g>
<!-- end caps -->
<g stroke="#eda3a8" stroke-width="1.4">
  <ellipse cx="251.5" cy="391.5" rx="5.8" ry="8.2" fill="#d9616a"/>
  <ellipse cx="263" cy="413.7" rx="4.3" ry="5" fill="#d9616a"/>
  <ellipse cx="243" cy="431.5" rx="5.5" ry="6" fill="#d9616a"/>
  <ellipse cx="256.5" cy="440.8" rx="6" ry="6.5" fill="#d9616a"/>
</g>
<ellipse cx="228" cy="414" rx="10" ry="11" fill="#f0c0c4"/>
<ellipse cx="230" cy="414" rx="8" ry="9.5" fill="url(#fasc)"/>
<path d="M215 405 C210 410 210 420 215 425" stroke="#f2cfd2" stroke-width="2" fill="none"/>

<!-- yellow nerve outside -->
<g fill="none" stroke-linecap="round">
  <path d="M207 203 C200 205 195 207 190 210" stroke="#e8c23a" stroke-width="2.5"/>
  <path d="M166 225 C157 234 155.5 245 155.5 255 C156 270 164 283 176 289.5 C185 294 192 296 200 298" stroke="#d3a822" stroke-width="6.5"/>
  <path d="M165.5 225 C156.5 234 154.8 245 154.8 255 C155.3 270 163.5 282.5 175.5 289" stroke="#f3da6a" stroke-width="3"/>
  <path d="M202 299 C212 307 222 318 235 333" stroke="#d3a822" stroke-width="5"/>
  <path d="M201.5 299.5 C211.5 307.5 221.5 318.5 234 333" stroke="#f3da6a" stroke-width="2"/>
  <path d="M190 222 C195 232 197 240 198 247" stroke="#8b8b50" stroke-width="0.8"/>
  <path d="M237.7 339 C241 350 240 362 237 370 C234 376 229 381 222.6 385" stroke="#a9acd2" stroke-width="1.8"/>
  <path d="M223 386 C215 396 210 405 206 418 M220 386 C212 394 205 404 200 414 M224 388 C220 398 216 408 214 418" stroke="#e9d56a" stroke-width="0.9"/>
</g>
<path d="M162 227 C170 218 180 210 193 207 C196 209 194 215 187 219 C178 223 170 225 162 227 Z" fill="#efcf4a" stroke="#d2a820" stroke-width="0.7"/>
<ellipse cx="200.5" cy="298" rx="5" ry="4.2" transform="rotate(30 200.5 298)" fill="#efcf4a" stroke="#d2a820" stroke-width="0.5"/>
<ellipse cx="236" cy="335" rx="3.5" ry="4.5" transform="rotate(-20 236 335)" fill="#efd24a" stroke="#d2a820" stroke-width="0.5"/>

<!-- magnifier circle contents -->
<g clip-path="url(#circClip)">
  <rect x="200" y="165" width="135" height="135" fill="#fff"/>
  <path d="M198 199 L236 197.5 L265 196 L290 191.8 L307 186 L318.6 182 L335 176 L335 300 L198 300 Z" fill="url(#tissueG)"/>
  <g stroke="#b12e38" stroke-width="0.9" fill="none">
    <path d="M200 207 C212 210 222 214 230 216 C250 216 270 212 291 209 C305 208 318 207 335 206"/>
    <path d="M198 199.5 L236 198 L265 196.5 L290 192.3 L307 186.5 L318.6 182.5 L335 176.5" stroke="#a8303a" stroke-width="1.2"/>
    <path d="M205 230 C215 228 225 232 240 230"/>
    <path d="M200 272 C220 280 240 290 270 293"/>
    <path d="M300 193 C305 200 310 205 315 215"/>
    <path d="M230 197 C240 203 245 210 250 214"/>
    <path d="M210 255 C220 260 230 262 245 262"/>
  </g>
  <path d="M280 225 L335 210" stroke="#5a4c8a" stroke-width="1" fill="none"/>
  <!-- fiber bundle cylinder -->
  <path d="M262 232 C280 228 300 224 326 219 L334 220 L334 272 C315 273 295 275 276 277 Z" fill="#c23f48"/>
  <ellipse cx="268" cy="252.5" rx="14.5" ry="24.5" transform="rotate(-8 268 252.5)" fill="#f2d4d7" stroke="#c9868c" stroke-width="0.8"/>
  <ellipse cx="275" cy="252.5" rx="9" ry="22" transform="rotate(-8 275 252.5)" fill="#c7474f"/>
  <g stroke="#e4898f" stroke-width="1.3" opacity="0.95">
    <path d="M270 235 L320 226 M268 242 L318 234.5 M267 249 L316 243 M267 256 L315 251 M268 263 L314 259 M270 270 L313 266"/>
  </g>
  <g stroke="#9e2a33" stroke-width="0.7" opacity="0.8">
    <path d="M270 238.5 L320 230 M268 245.5 L318 238.5 M267 252.5 L316 247 M267 259.5 L315 255 M269 266.5 L314 262.5"/>
  </g>
  <!--GEN:FIB-->
<g fill="#dd6b72" stroke="#a52d36" stroke-width="0.8"><circle cx="314.0" cy="227.8" r="3.5"/><circle cx="321.0" cy="227.8" r="3.5"/><circle cx="310.5" cy="233.9" r="3.5"/><circle cx="317.5" cy="233.9" r="3.5"/><circle cx="324.5" cy="233.9" r="3.5"/><circle cx="307.0" cy="239.9" r="3.5"/><circle cx="314.0" cy="239.9" r="3.5"/><circle cx="321.0" cy="239.9" r="3.5"/><circle cx="328.0" cy="239.9" r="3.5"/><circle cx="310.5" cy="246.0" r="3.5"/><circle cx="317.5" cy="246.0" r="3.5"/><circle cx="324.5" cy="246.0" r="3.5"/><circle cx="307.0" cy="252.1" r="3.5"/><circle cx="314.0" cy="252.1" r="3.5"/><circle cx="321.0" cy="252.1" r="3.5"/><circle cx="328.0" cy="252.1" r="3.5"/><circle cx="310.5" cy="258.1" r="3.5"/><circle cx="317.5" cy="258.1" r="3.5"/><circle cx="324.5" cy="258.1" r="3.5"/><circle cx="314.0" cy="264.2" r="3.5"/><circle cx="321.0" cy="264.2" r="3.5"/></g>
<g fill="#eb9da2"><circle cx="313.1" cy="226.9" r="1.3"/><circle cx="320.1" cy="226.9" r="1.3"/><circle cx="309.6" cy="233.0" r="1.3"/><circle cx="316.6" cy="233.0" r="1.3"/><circle cx="323.6" cy="233.0" r="1.3"/><circle cx="306.1" cy="239.0" r="1.3"/><circle cx="313.1" cy="239.0" r="1.3"/><circle cx="320.1" cy="239.0" r="1.3"/><circle cx="327.1" cy="239.0" r="1.3"/><circle cx="309.6" cy="245.1" r="1.3"/><circle cx="316.6" cy="245.1" r="1.3"/><circle cx="323.6" cy="245.1" r="1.3"/><circle cx="306.1" cy="251.2" r="1.3"/><circle cx="313.1" cy="251.2" r="1.3"/><circle cx="320.1" cy="251.2" r="1.3"/><circle cx="327.1" cy="251.2" r="1.3"/><circle cx="309.6" cy="257.2" r="1.3"/><circle cx="316.6" cy="257.2" r="1.3"/><circle cx="323.6" cy="257.2" r="1.3"/><circle cx="313.1" cy="263.3" r="1.3"/><circle cx="320.1" cy="263.3" r="1.3"/></g>
<!--/GEN:FIB-->
  <!-- yellow nerves -->
  <g stroke="#eabf3a" stroke-width="2.1" fill="none" stroke-linecap="round">
    <path d="M276 168 C268 185 258 205 252 225 C248 245 245 262 242 280"/>
    <path d="M279 168 C271 188 262 210 256 230 C252 250 250 265 248 288"/>
    <path d="M273 170 C265 190 256 210 250 228 C246 250 244 265 236 280"/>
    <path d="M255 216 C243 220 230 224 220 227"/>
    <path d="M253 224 C240 230 228 236 219 241"/>
    <path d="M252 228 C245 236 236 243 229 248"/>
    <path d="M252 232 C247 238 241 243 237 248"/>
    <path d="M251 236 C248 239 245 240 243 241"/>
    <path d="M250 262 C253 270 256 276 258 281"/>
    <path d="M275 176 C272 185 268 192 266 197"/>
    <path d="M277 178 C276 190 274 200 273 207"/>
    <path d="M279 178 C280 188 281 195 282 201"/>
    <path d="M281 176 C284 183 286 188 287 193"/>
  </g>
  <g fill="#3a963a" stroke="#276b27" stroke-width="0.5">
    <ellipse cx="219.8" cy="227" rx="4.3" ry="3.0"/>
    <ellipse cx="218.4" cy="241" rx="3.8" ry="3.2"/>
    <ellipse cx="228" cy="248" rx="3.4" ry="3.2"/>
    <ellipse cx="237" cy="248" rx="3.4" ry="3.2"/>
    <ellipse cx="243" cy="241" rx="3.4" ry="3.2"/>
    <ellipse cx="265" cy="197.5" rx="4.3" ry="3.2"/>
    <ellipse cx="273.4" cy="207.4" rx="3.4" ry="3.2"/>
    <ellipse cx="282" cy="201.7" rx="3.6" ry="3.2"/>
    <ellipse cx="286.5" cy="193" rx="4.3" ry="3.2"/>
    <ellipse cx="235.3" cy="279.4" rx="3.4" ry="3.2"/>
    <ellipse cx="248" cy="287.8" rx="3.4" ry="3.2"/>
    <ellipse cx="258" cy="281" rx="4.1" ry="3.2"/>
  </g>
</g>

<rect x="336.5" y="0" width="481.5" height="312" fill="#fafbfd"/>
<!-- ================= RIGHT ILLUSTRATION ================= -->
<g filter="url(#blur1)">
<text x="361" y="23.5" font-size="13.5" textLength="108" lengthAdjust="spacingAndGlyphs">Receptorul pentru</text>
<text x="360.3" y="38.4" font-size="13.5" textLength="109" lengthAdjust="spacingAndGlyphs">durere este activat</text>
<text x="347.6" y="90.6" font-size="14" textLength="39" lengthAdjust="spacingAndGlyphs">Stimul</text>
<text x="550.2" y="196.4" font-size="13" textLength="54.5" lengthAdjust="spacingAndGlyphs">Muşchiul</text>
<text x="540.5" y="211.3" font-size="13" textLength="72.5" lengthAdjust="spacingAndGlyphs">se contractă</text>
</g>
<line x1="474" y1="23" x2="487" y2="35" stroke="#333" stroke-width="1.2"/>

<!-- motion lines -->
<g stroke="#e9ebef" stroke-width="1.2" fill="none">
  <path d="M457 62 L440 75 M459 76 L436 94 M455 96 L433 113 M460 104 L436 124 M458 118 L434 137 M456 132 L440 145"/>
</g>

<!-- right arm -->
<path d="M490.7 44 C491.5 39.5 498.5 38.5 500.5 43.5 C503.5 55 506 68 506.5 80 C507 92 505 101 501 109 C497 118 492 128 489 137 C487 145 489 155 495 168 C503 185 513 203 520 215 C525 225 529 233 531.5 241 C545 234 575 224 603 218 L632 219 L632 291 C615 293 600 297.5 580 299.7 C560 301 540 301.5 520 302.3 C512 302 506 297 500 290 C492 280 486 272 482 265 C476 248 472 225 470 205 C468 185 462 160 457 148 C452 140 451 132 453 122 C455 114 459 108 461 102 C463 98 464 95 464 93.6 C461 87 457 81 455 75.5 C454.5 72 459 71.5 460.6 74.4 C464 79 468 85 470 89 L472.3 78.6 C468 72 464 64 461.4 55.5 C461 52 466 52 467.3 54.3 C471 61 476 68 480 73.5 L480.7 70 C479.5 60 478.5 50 477.8 40 C478.5 36.5 483.5 36.5 484 39.2 C486 46 489 55 491 65 L492.4 72 C492 62 491 52 490.7 44 Z" fill="url(#skinG)" stroke="#8f4d30" stroke-width="1.1"/>
<g stroke="#c07050" stroke-width="0.8" fill="none">
  <path d="M470 89 C473 95 474 100 472 106"/>
  <path d="M480 73.5 C482 80 482 88 480 96"/>
  <path d="M492.4 72 C494 82 494 92 491 100"/>
  <path d="M466 100 C470 108 474 112 479 111"/>
  <path d="M476 86 C474 80 478 76 481 80"/>
  <path d="M459 110 C461 118 463 125 462 132"/>
</g>
<!-- muscle -->
<path d="M521 253.4 C530 248 545 240 560 234 C575 228 595 224 612 224 C620 224 626 226 628 230 L629 258 C626 265 615 269 600 271 C580 272 560 269 545 265 C535 261 526 257 521 253.4 Z" fill="url(#muscR)"/>
<g stroke="#f2a0b4" stroke-width="0.9" fill="none" opacity="0.85">
  <path d="M535 248 C560 236 590 230 626 230"/>
  <path d="M533 251 C565 243 595 240 627 239"/>
  <path d="M532 254 C565 251 595 249 627 248"/>
  <path d="M533 257 C565 259 595 259 627 256"/>
  <path d="M536 260 C565 265 595 266 625 263"/>
</g>
<g stroke="#a81c44" stroke-width="0.9" fill="none" opacity="0.75">
  <path d="M540 246 C565 238 595 234 627 235"/>
  <path d="M538 250 C565 244 595 242 627 243"/>
  <path d="M540 256 C570 255 600 254 627 252"/>
  <path d="M542 260 C570 262 600 262 627 258"/>
  <path d="M545 263 C575 266 600 266 625 260"/>
  <path d="M555 230 C575 227 600 225 620 226"/>
</g>
<path d="M521 253.4 C530 248 545 241 560 236 L560 268 C545 265 530 259 521 253.4 Z" fill="url(#muscRL)"/>
<rect x="620" y="212" width="22" height="94" fill="url(#armFade)"/>

<!-- left hand -->
<path d="M378 106 C380 103.5 384 104 386 107 C390 110 392 113 394 115 C398 120 401 125 405.5 130 C410 135 415 140 420 145 C426 152 431 158 435.7 165 C441 172 446 179 450 185 C454 191 458 197 461 205 C463 212 465 220 465 228 L466 246 L448 246 C446 235 443 225 440 216 C435 208 428 203 420 199.8 C415 197 411 194 408 193 C404 194 401 197 398 198 C393 200 388 198 385 195 C381 191 378 187 376 182 C375 176 376 170 377 166 C375 162 375 158 377 155 C380 151 390 148 400 148 C396 141 390 132 386 124 C382 118 379 113 377.5 110 C377 108 377 107 378 106 Z" fill="#fbe1d3" stroke="#cf8f74" stroke-width="0.9"/>
<path d="M396 176 C400 178 404 182 406 190 C404 194 400 196 397 195 C395 190 394 183 396 176 Z" fill="#f2b9a2" opacity="0.8"/>
<g stroke="#c9856a" stroke-width="0.85" fill="none">
  <path d="M400 148 C405 155 410 160 416 163"/>
  <path d="M377 166 C382 170 392 171 404 170 C408 170 411 172 413 176"/>
  <ellipse cx="384" cy="160.5" rx="4.2" ry="5"/>
  <path d="M376.5 182 C379 185 383 186 386 184"/>
  <path d="M383 172 C383 178 383.5 183 386 186 C387 191 388 195 391 197"/>
  <path d="M391 173 C391 180 391.5 186 393 190 C394 194 396 197 399 198"/>
  <path d="M399 172 C400 178 402 184 406 190"/>
  <path d="M404 170 C405 166 406 160 404 154"/>
</g>
<rect x="430" y="220" width="40" height="32" fill="url(#lhFade)"/>
<path d="M381 111.5 C390 122 396 130 399.5 134.5 C407 145 413 152 418 157.5 C426 167 432 175 439 186 C444 194 447 199 450.5 204.4 C455 212 459 218 462 222.8" stroke="#fff3d8" stroke-width="3.4" fill="none"/>
<path d="M381 111.5 C390 122 396 130 399.5 134.5 C407 145 413 152 418 157.5 C426 167 432 175 439 186 C444 194 447 199 450.5 204.4 C455 212 459 218 462 222.8" stroke="#4a7a2a" stroke-width="1.2" fill="none"/>

<!-- candle -->
<path d="M372 96 C370 106 365 116 365.5 124 C366 129 369 131 372 131 C375 131 378 129 377.5 124 C377 116 374 106 372 96 Z" fill="#c8303c"/>
<path d="M372 106 C370.5 113 367.5 119 368 124.5 C368.5 128 370.5 129.5 372 129.5 C373.5 129.5 375.5 128 375.5 124.5 C375.5 119 373.5 113 372 106 Z" fill="#f2b49a"/>
<path d="M372 116 C371 120 369.5 124 370 127 C370.5 129 373.5 129 374 127 C374.5 124 373 120 372 116 Z" fill="#f8e0b0"/>
<path d="M368.5 133 C367 137 366 142 367 145 C368 148 375 148 376.5 145 C377.5 142 376 137 374.5 133 Z" fill="#aecde6"/>
<path d="M369.5 135 C369 139 369 142 369.5 144" stroke="#eaf4fb" stroke-width="1.5" fill="none"/>
<line x1="371.3" y1="128" x2="371.3" y2="135" stroke="#222" stroke-width="1.2"/>
<!-- glow at fingertip -->
<circle cx="495" cy="40" r="10" fill="url(#glow)"/>

<!-- spinal cord side -->
<path d="M676.5 88 C677 100 680 112 687 120 C695 129 707 135 717.3 137.5 L729 140 L735.6 140 C750 139 764 136 771 131 C779 124 784 112 785.5 100 L785.5 84 Z" fill="#ecbf74" stroke="#8f6a35" stroke-width="1"/>
<!-- spinal cord top face -->
<path d="M693 44.5 C700 40 708 37 716 35.5 C722 34.5 727 35 729.5 38 C731 36 734 35 738 35 C752 35.5 763 41 771 48 C779 55 784 68 785.4 82 C786 93 784 100 781 106 C777 112 770 117 762 120.5 C753 124 743 126 735.6 125.7 L733 126 L733 95 L727.7 95 L727.7 126 C718 125 710 124 704 121.8 C699 119.5 695 116 691.5 112.2 L680.2 106.5 C678 102 676.5 96 676.5 91.5 L678.4 72.6 Z" fill="#fbefc0" stroke="#8f6a35" stroke-width="1.1"/>
<!-- gray matter -->
<path d="M729.5 79 C735 79 740 77 743 74 L756.5 50.5 C758 48.5 762 49 762.5 52 L750 77 C756 82 762 90 763.5 100 C764 108 758 112 749 111.5 C742 111 738 106 736 100 C735 96 733.5 94.5 732.4 94.5 L727.7 94.5 C726 95 725 98 723 103 C720 110 714 113.5 706 113 C699 112 697 106 697.5 99 C698 91 703 84 709 79 L697.5 56.5 C697 53.5 700 52.5 701.5 54.5 L716 76 C720 78.5 725 79 729.5 79 Z" fill="#f2d179"/>
<line x1="729.5" y1="38" x2="729.5" y2="76" stroke="#9a7840" stroke-width="0.8"/>
<path d="M727.7 95 L727.7 126 M732.8 95 L732.8 126" stroke="#a8884a" stroke-width="0.8"/>
<rect x="728.2" y="96" width="4.2" height="29" fill="#fffaf0"/>
<ellipse cx="729.8" cy="86.2" rx="1.9" ry="1.4" fill="#2a2a2a"/>

<!-- nerve roots -->
<path d="M691.5 42.5 C686 42.5 680 43 676 45 C668 48 660 52 653.9 55.7 C646 61 640 67 637 72.6 C633 79 630 83 626 87.5 C618 93 608 98 600 103 C592 108 584 114 577 119.5 L578.5 123.5 C586 118 593 113 600 108 C607 103.5 613 100 620 97.5 C627 95 633 93 638.8 91.5 C645 89.5 649 88 652 85.8 C656 83 659 81 661.4 78.3 C664 74 665.5 70 667 67 C669 62 670.5 58 672.7 55.7 C675 53.5 677 52.5 680.2 52 C684 51 688 50 692 50 Z" fill="#efca4a" stroke="#c49620" stroke-width="0.9"/>
<path d="M692 110 C684 109 680 106 676.5 104.6 C670 101.5 664 99 657.6 97 C652 95.5 646 95 640 96 C633 97 627 99 622 101 C615 104 609 107 605 110 C598 115 593 119 590 122 C587 125.5 585 128.5 583 131 L587 134 C589 131 591 128 594 125 C598 121 603 117 609 114 C615 110.5 621 107 627.8 105 C634 103.5 640 103.5 645 104.5 C650 105.5 654 107 657.6 108.4 C664 111 670 113 676.5 114 C682 115 687 116 692 116.5 Z" fill="#efca4a" stroke="#c49620" stroke-width="0.9"/>
<path d="M688 45 C680 45 672 47 664 51 C656 56 648 63 643 70 C640 75 636 80 632 84" stroke="#f9e79c" stroke-width="1.6" fill="none" stroke-linecap="round"/>
<path d="M688 112.5 C678 110 668 106 658 102" stroke="#f9e79c" stroke-width="1.2" fill="none" stroke-linecap="round"/>
<g fill="none" stroke-linecap="round">
  <path d="M692 45.5 C685 46 680 47 676.5 48.2 C668 52 662 56 657.6 59.5 C653 63 650 65 648.2 67 C646 70 645.4 72.6 645.4 72.6 C644 76 643 79 642.6 80.2 C640 84 637 86 635 87.7 C630 91 625 94 620 97 C613 101 607 104.5 602 108 C596 112 590 115.5 585 118.5 C582 120 580 121.5 577.6 123" stroke="#2f6e22" stroke-width="1.3"/>
  <path d="M692 114 C684 112 675 109 667 106.5 C660 104 654 102 648.2 100 C642 99 636 99 629.4 100 C626 100 623.5 100 621.5 100 C615 103 608 106 602.7 109 C595 114 589 119 583.8 124" stroke="#1f2e6e" stroke-width="1.3"/>
  <path d="M693 46.6 C699 50 704 55 707 58 L713.5 59.8" stroke="#3a7a2a" stroke-width="1"/>
  <path d="M710 64 C712 70 712 80 710.3 89 C709.5 92 709 93 708.8 94" stroke="#8a1818" stroke-width="1"/>
  <path d="M707 100 C703 105 699 109 693 112.5" stroke="#222" stroke-width="1"/>
</g>
<circle cx="646.4" cy="68" r="2.9" fill="#2c7d2c"/>
<circle cx="709.8" cy="64.5" r="2" fill="#a01818"/>
<circle cx="707" cy="99.3" r="2" fill="#111"/>

<!-- long nerves -->
<g fill="none" stroke-linecap="round" stroke-width="1.4">
  <path d="M577.6 123 C572 128 567 133 565 140 C564 146 564 151 565 155 C566 163 572 166 585 168 C600 170 620 172 640 178.7 C652 184 660 190 665 200 C670 210 671 222 671 234 C670 248 664 259 650 266 C637 272 622 276 600 279 C585 280.5 570 281 558 280.8 C545 280 535 278.5 527.7 275 C518 270 510 262 505 253.4 C500 246 497 242 495 240 C491 230 488 222 487.6 215 C485 205 482 195 479.7 188 C477 178 475.6 172 475.6 169 C474.5 160 474 153 474.5 148 C476 140 478 136 480 133 C484 125 487 120 488 116.7 C492 111 495 106 497 101 C499 95 500.7 88 500.7 80 C500.7 70 499 60 497.5 55 C496.5 51 495.5 49 495 47" stroke="#fff3d2" stroke-width="3.6" opacity="0.9"/>
  <path d="M577.6 123 C572 128 567 133 565 140 C564 146 564 151 565 155 C566 163 572 166 585 168 C600 170 620 172 640 178.7 C652 184 660 190 665 200 C670 210 671 222 671 234 C670 248 664 259 650 266 C637 272 622 276 600 279 C585 280.5 570 281 558 280.8 C545 280 535 278.5 527.7 275 C518 270 510 262 505 253.4 C500 246 497 242 495 240 C491 230 488 222 487.6 215 C485 205 482 195 479.7 188 C477 178 475.6 172 475.6 169 C474.5 160 474 153 474.5 148 C476 140 478 136 480 133 C484 125 487 120 488 116.7 C492 111 495 106 497 101 C499 95 500.7 88 500.7 80 C500.7 70 499 60 497.5 55 C496.5 51 495.5 49 495 47" stroke="#3b5a1c"/>
  <path d="M583.8 124 C580 129 577 135 576.3 140 C575.8 145 576.5 150 579 153 C580 154 581 154.5 582 155 C590 158 600 160 607 160 C620 163 632 167 640 172 C650 178 657 184 661 190 C665 198 667 205 666 212 C665 220 662 226 655 230 C648 232 640 232 632 233 C626 233 621 231 617 230" stroke="#2b3a80"/>
  <path d="M655 230 C648 238 640 243 632 245 C626 246 620 246 612 246" stroke="#2b3a80"/>
  <path d="M632 233 C627 236 622 238 615 239" stroke="#2b3a80" stroke-width="1"/>
</g>

<!-- arrows & pointer lines -->
<g stroke="#222" stroke-width="1.3" fill="none">
  <path d="M637 59 C641 54 646 50 652 47"/>
  <path d="M668 126 C662 125 656 122 650 119"/>
  <path d="M691.6 142.7 L739 118"/>
  <path d="M747.4 98.4 L782.7 135"/>
  <path d="M441.3 204.4 C445 210 448 215 452 220"/>
</g>
<g fill="#222">
  <path d="M655.5 45 L648 45.5 L651.5 51 Z"/>
  <path d="M646 117 L653 115.5 L650.5 122 Z"/>
  <path d="M455.5 226 L449 222 L454.5 218.5 Z"/>
</g>
</svg>
</body></html>
